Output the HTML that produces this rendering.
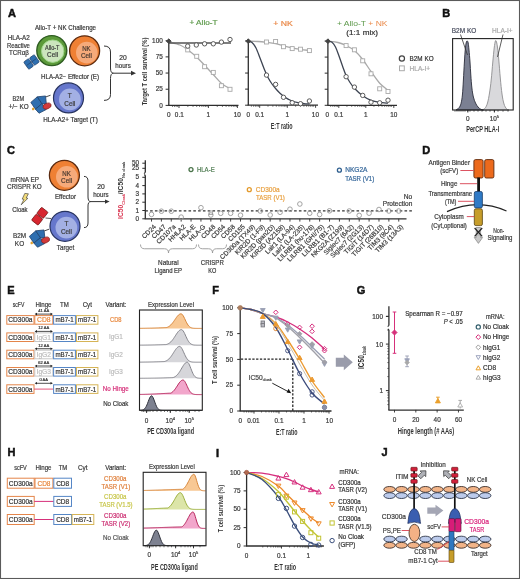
<!DOCTYPE html>
<html><head><meta charset="utf-8"><style>
html,body{margin:0;padding:0;background:#fff;}
body{width:520px;height:579px;overflow:hidden;}
svg{display:block;font-family:"Liberation Sans", sans-serif;will-change:transform;}
</style></head><body>
<svg width="520" height="579" viewBox="0 0 520 579">
<rect x="0" y="0" width="520" height="579" fill="#fff"/>
<text x="8.00" y="17.19" font-size="11.0" fill="#111" stroke="#111" stroke-width="0.5" font-weight="bold">A</text>
<text x="65.50" y="29.75" font-size="6.63" fill="#3a3a3a" stroke="#3a3a3a" stroke-width="0.2" text-anchor="middle" textLength="61" lengthAdjust="spacingAndGlyphs">Allo-T + NK Challenge</text>
<text x="18.70" y="40.15" font-size="6.63" fill="#3a3a3a" stroke="#3a3a3a" stroke-width="0.2" text-anchor="middle" textLength="22" lengthAdjust="spacingAndGlyphs">HLA-A2</text>
<text x="18.40" y="47.85" font-size="6.63" fill="#3a3a3a" stroke="#3a3a3a" stroke-width="0.2" text-anchor="middle" textLength="23" lengthAdjust="spacingAndGlyphs">Reactive</text>
<text x="18.90" y="55.45" font-size="6.63" fill="#3a3a3a" stroke="#3a3a3a" stroke-width="0.2" text-anchor="middle" textLength="19.7" lengthAdjust="spacingAndGlyphs">TCR&#945;&#946;</text>
<circle cx="51.80" cy="50.60" r="15.00" fill="#5c9a3a" stroke="#2f5d22" stroke-width="1.4" />
<circle cx="52.70" cy="51.20" r="11.20" fill="#cce6bd" stroke="#9fd68a" stroke-width="1.0" />
<text x="52.20" y="50.08" font-size="6.42" fill="#3d3d3d" stroke="#3d3d3d" stroke-width="0.2" text-anchor="middle" textLength="14.4" lengthAdjust="spacingAndGlyphs">Allo-T</text>
<text x="52.60" y="57.08" font-size="6.42" fill="#3d3d3d" stroke="#3d3d3d" stroke-width="0.2" text-anchor="middle" textLength="11" lengthAdjust="spacingAndGlyphs">Cell</text>
<circle cx="84.60" cy="50.80" r="15.00" fill="#ef8034" stroke="#5a2a10" stroke-width="1.3" />
<circle cx="86.80" cy="52.60" r="10.80" fill="#f6aa7a" stroke="none" stroke-width="1" />
<text x="86.40" y="50.98" font-size="6.42" fill="#4a3a30" stroke="#4a3a30" stroke-width="0.2" text-anchor="middle" textLength="8.5" lengthAdjust="spacingAndGlyphs">NK</text>
<text x="86.40" y="58.18" font-size="6.42" fill="#4a3a30" stroke="#4a3a30" stroke-width="0.2" text-anchor="middle" textLength="11" lengthAdjust="spacingAndGlyphs">Cell</text>
<text x="70.00" y="78.68" font-size="6.42" fill="#3a3a3a" stroke="#3a3a3a" stroke-width="0.2" text-anchor="middle" textLength="58" lengthAdjust="spacingAndGlyphs">HLA-A2− Effector (E)</text>
<g transform="translate(31.5,62) rotate(-35)"><rect x="-6.5" y="-4.5" width="6" height="9" rx="1" fill="#2f6fb0" stroke="#1d3f6a" stroke-width="0.7"/><rect x="0.5" y="-4.5" width="6" height="9" rx="1" fill="#2f6fb0" stroke="#1d3f6a" stroke-width="0.7"/><line x1="-6" y1="0" x2="6" y2="0" stroke="#1d3f6a" stroke-width="0.6"/></g>
<circle cx="68.50" cy="97.90" r="15.00" fill="#6677cc" stroke="#27335f" stroke-width="1.2" />
<circle cx="69.90" cy="99.40" r="10.90" fill="#a3b0e4" stroke="none" stroke-width="1" />
<text x="69.80" y="98.18" font-size="6.42" fill="#3d3d3d" stroke="#3d3d3d" stroke-width="0.2" text-anchor="middle">T</text>
<text x="69.80" y="105.78" font-size="6.42" fill="#3d3d3d" stroke="#3d3d3d" stroke-width="0.2" text-anchor="middle" textLength="11" lengthAdjust="spacingAndGlyphs">Cell</text>
<text x="18.30" y="100.85" font-size="6.63" fill="#3a3a3a" stroke="#3a3a3a" stroke-width="0.2" text-anchor="middle" textLength="11.5" lengthAdjust="spacingAndGlyphs">B2M</text>
<text x="18.60" y="109.25" font-size="6.63" fill="#3a3a3a" stroke="#3a3a3a" stroke-width="0.2" text-anchor="middle" textLength="20" lengthAdjust="spacingAndGlyphs">+/− KO</text>
<text x="70.50" y="122.48" font-size="6.42" fill="#3a3a3a" stroke="#3a3a3a" stroke-width="0.2" text-anchor="middle" textLength="54.5" lengthAdjust="spacingAndGlyphs">HLA-A2+ Target (T)</text>
<g transform="translate(41,104) rotate(-20)"><path d="M-9,-5 L-1,-8 L1,0 L-7,3 Z" fill="#2f6fb0" stroke="#1d3f6a" stroke-width="0.7"/><path d="M-1,-8 L7,-6 L5,2 L1,0 Z" fill="#2f6fb0" stroke="#1d3f6a" stroke-width="0.7"/><path d="M-7,3 L1,0 L3,7 L-5,8 Z" fill="#2f6fb0" stroke="#1d3f6a" stroke-width="0.7"/><ellipse cx="5" cy="4" rx="4.2" ry="2.8" fill="#d23a3a" stroke="#7a1d1d" stroke-width="0.6"/><circle cx="-9" cy="2" r="1.3" fill="#e0a030"/><line x1="7" y1="-5" x2="12" y2="-5" stroke="#333" stroke-width="0.8"/></g>
<path d="M104,46 Q110.5,46 110.5,52 L110.5,68 Q110.5,73.2 113.5,73.2 Q110.5,73.2 110.5,78.5 L110.5,94.5 Q110.5,100.4 104,100.4" fill="none" stroke="#333" stroke-width="1.0" />
<line x1="113.50" y1="73.20" x2="132.50" y2="73.20" stroke="#333" stroke-width="1.0" />
<path d="M131,70.8 L136,73.2 L131,75.6 Z" fill="#333" stroke="none" stroke-width="1" />
<text x="123.00" y="59.75" font-size="6.63" fill="#3a3a3a" stroke="#3a3a3a" stroke-width="0.2" text-anchor="middle" textLength="7.5" lengthAdjust="spacingAndGlyphs">20</text>
<text x="123.00" y="67.65" font-size="6.63" fill="#3a3a3a" stroke="#3a3a3a" stroke-width="0.2" text-anchor="middle" textLength="15.5" lengthAdjust="spacingAndGlyphs">hours</text>
<text x="144.40" y="74.15" font-size="7.81" fill="#333" text-anchor="middle" font-weight="bold" textLength="67.7" lengthAdjust="spacingAndGlyphs" transform="rotate(-90 144.40 71.50)">Target T cell survival (%)</text>
<line x1="168.80" y1="39.20" x2="168.80" y2="105.40" stroke="#2e2e2e" stroke-width="1.3" />
<line x1="168.20" y1="105.40" x2="238.50" y2="105.40" stroke="#2e2e2e" stroke-width="1.3" />
<line x1="165.60" y1="40.70" x2="168.80" y2="40.70" stroke="#2e2e2e" stroke-width="1.0" />
<text x="162.80" y="42.88" font-size="6.42" fill="#3a3a3a" stroke="#3a3a3a" stroke-width="0.2" text-anchor="end">100</text>
<line x1="165.60" y1="56.88" x2="168.80" y2="56.88" stroke="#2e2e2e" stroke-width="1.0" />
<text x="162.80" y="59.06" font-size="6.42" fill="#3a3a3a" stroke="#3a3a3a" stroke-width="0.2" text-anchor="end">75</text>
<line x1="165.60" y1="73.05" x2="168.80" y2="73.05" stroke="#2e2e2e" stroke-width="1.0" />
<text x="162.80" y="75.23" font-size="6.42" fill="#3a3a3a" stroke="#3a3a3a" stroke-width="0.2" text-anchor="end">50</text>
<line x1="165.60" y1="89.22" x2="168.80" y2="89.22" stroke="#2e2e2e" stroke-width="1.0" />
<text x="162.80" y="91.41" font-size="6.42" fill="#3a3a3a" stroke="#3a3a3a" stroke-width="0.2" text-anchor="end">25</text>
<line x1="165.60" y1="105.40" x2="168.80" y2="105.40" stroke="#2e2e2e" stroke-width="1.0" />
<text x="162.80" y="107.58" font-size="6.42" fill="#3a3a3a" stroke="#3a3a3a" stroke-width="0.2" text-anchor="end">0</text>
<line x1="179.00" y1="105.40" x2="179.00" y2="108.00" stroke="#2e2e2e" stroke-width="0.9" />
<line x1="208.40" y1="105.40" x2="208.40" y2="108.00" stroke="#2e2e2e" stroke-width="0.9" />
<line x1="237.40" y1="105.40" x2="237.40" y2="108.00" stroke="#2e2e2e" stroke-width="0.9" />
<line x1="172.48" y1="105.40" x2="172.48" y2="106.90" stroke="#2e2e2e" stroke-width="0.7" />
<line x1="174.45" y1="105.40" x2="174.45" y2="106.90" stroke="#2e2e2e" stroke-width="0.7" />
<line x1="176.15" y1="105.40" x2="176.15" y2="106.90" stroke="#2e2e2e" stroke-width="0.7" />
<line x1="177.65" y1="105.40" x2="177.65" y2="106.90" stroke="#2e2e2e" stroke-width="0.7" />
<line x1="187.85" y1="105.40" x2="187.85" y2="106.90" stroke="#2e2e2e" stroke-width="0.7" />
<line x1="193.03" y1="105.40" x2="193.03" y2="106.90" stroke="#2e2e2e" stroke-width="0.7" />
<line x1="196.70" y1="105.40" x2="196.70" y2="106.90" stroke="#2e2e2e" stroke-width="0.7" />
<line x1="199.55" y1="105.40" x2="199.55" y2="106.90" stroke="#2e2e2e" stroke-width="0.7" />
<line x1="201.88" y1="105.40" x2="201.88" y2="106.90" stroke="#2e2e2e" stroke-width="0.7" />
<line x1="203.85" y1="105.40" x2="203.85" y2="106.90" stroke="#2e2e2e" stroke-width="0.7" />
<line x1="205.55" y1="105.40" x2="205.55" y2="106.90" stroke="#2e2e2e" stroke-width="0.7" />
<line x1="207.05" y1="105.40" x2="207.05" y2="106.90" stroke="#2e2e2e" stroke-width="0.7" />
<line x1="217.25" y1="105.40" x2="217.25" y2="106.90" stroke="#2e2e2e" stroke-width="0.7" />
<line x1="222.43" y1="105.40" x2="222.43" y2="106.90" stroke="#2e2e2e" stroke-width="0.7" />
<line x1="226.10" y1="105.40" x2="226.10" y2="106.90" stroke="#2e2e2e" stroke-width="0.7" />
<line x1="228.95" y1="105.40" x2="228.95" y2="106.90" stroke="#2e2e2e" stroke-width="0.7" />
<line x1="231.28" y1="105.40" x2="231.28" y2="106.90" stroke="#2e2e2e" stroke-width="0.7" />
<line x1="233.25" y1="105.40" x2="233.25" y2="106.90" stroke="#2e2e2e" stroke-width="0.7" />
<line x1="234.95" y1="105.40" x2="234.95" y2="106.90" stroke="#2e2e2e" stroke-width="0.7" />
<line x1="236.45" y1="105.40" x2="236.45" y2="106.90" stroke="#2e2e2e" stroke-width="0.7" />
<text x="168.80" y="116.78" font-size="6.42" fill="#3a3a3a" stroke="#3a3a3a" stroke-width="0.2" text-anchor="middle">0</text>
<text x="179.30" y="116.78" font-size="6.42" fill="#3a3a3a" stroke="#3a3a3a" stroke-width="0.2" text-anchor="middle">0.1</text>
<text x="208.40" y="116.78" font-size="6.42" fill="#3a3a3a" stroke="#3a3a3a" stroke-width="0.2" text-anchor="middle">1</text>
<text x="237.20" y="116.78" font-size="6.42" fill="#3a3a3a" stroke="#3a3a3a" stroke-width="0.2" text-anchor="middle">10</text>
<text x="203.50" y="25.39" font-size="7.92" fill="#5e9a4c" stroke="#5e9a4c" stroke-width="0.2" text-anchor="middle" textLength="28" lengthAdjust="spacingAndGlyphs">+ Allo-T</text>
<path d="M168.80,42.00 C170.67,42.50 176.80,43.67 180.00,45.00 C183.20,46.33 185.25,48.00 188.00,50.00 C190.75,52.00 193.70,54.42 196.50,57.00 C199.30,59.58 202.02,62.58 204.80,65.50 C207.58,68.42 210.40,71.50 213.20,74.50 C216.00,77.50 218.80,81.15 221.60,83.50 C224.40,85.85 228.60,87.75 230.00,88.60" fill="none" stroke="#a9a9a9" stroke-width="1.3" />
<line x1="168.80" y1="43.00" x2="231.00" y2="43.00" stroke="#555" stroke-width="1.3" />
<rect x="185.70" y="47.90" width="4.00" height="4.00" fill="#fff" stroke="#a9a9a9" stroke-width="0.9" rx="0" />
<rect x="194.70" y="54.30" width="4.00" height="4.00" fill="#fff" stroke="#a9a9a9" stroke-width="0.9" rx="0" />
<rect x="202.60" y="64.70" width="4.00" height="4.00" fill="#fff" stroke="#a9a9a9" stroke-width="0.9" rx="0" />
<rect x="211.30" y="70.40" width="4.00" height="4.00" fill="#fff" stroke="#a9a9a9" stroke-width="0.9" rx="0" />
<rect x="219.40" y="83.70" width="4.00" height="4.00" fill="#fff" stroke="#a9a9a9" stroke-width="0.9" rx="0" />
<rect x="228.00" y="87.30" width="4.00" height="4.00" fill="#fff" stroke="#a9a9a9" stroke-width="0.9" rx="0" />
<circle cx="187.70" cy="46.10" r="2.20" fill="#fff" stroke="#4a4a4a" stroke-width="0.9" />
<circle cx="196.30" cy="45.00" r="2.20" fill="#fff" stroke="#4a4a4a" stroke-width="0.9" />
<circle cx="204.60" cy="43.80" r="2.20" fill="#fff" stroke="#4a4a4a" stroke-width="0.9" />
<circle cx="213.30" cy="43.80" r="2.20" fill="#fff" stroke="#4a4a4a" stroke-width="0.9" />
<circle cx="221.40" cy="42.10" r="2.20" fill="#fff" stroke="#4a4a4a" stroke-width="0.9" />
<circle cx="230.00" cy="39.50" r="2.20" fill="#fff" stroke="#4a4a4a" stroke-width="0.9" />
<path d="M168.8,38.800000000000004 L171.20000000000002,41.2 L168.8,43.6 L166.4,41.2 Z" fill="#444" stroke="#444" stroke-width="0.9" />
<line x1="248.30" y1="39.40" x2="248.30" y2="105.20" stroke="#2e2e2e" stroke-width="1.3" />
<line x1="247.70" y1="105.20" x2="318.00" y2="105.20" stroke="#2e2e2e" stroke-width="1.3" />
<line x1="245.10" y1="40.90" x2="248.30" y2="40.90" stroke="#2e2e2e" stroke-width="1.0" />
<line x1="245.10" y1="56.98" x2="248.30" y2="56.98" stroke="#2e2e2e" stroke-width="1.0" />
<line x1="245.10" y1="73.05" x2="248.30" y2="73.05" stroke="#2e2e2e" stroke-width="1.0" />
<line x1="245.10" y1="89.12" x2="248.30" y2="89.12" stroke="#2e2e2e" stroke-width="1.0" />
<line x1="245.10" y1="105.20" x2="248.30" y2="105.20" stroke="#2e2e2e" stroke-width="1.0" />
<line x1="259.70" y1="105.20" x2="259.70" y2="107.80" stroke="#2e2e2e" stroke-width="0.9" />
<line x1="287.30" y1="105.20" x2="287.30" y2="107.80" stroke="#2e2e2e" stroke-width="0.9" />
<line x1="315.60" y1="105.20" x2="315.60" y2="107.80" stroke="#2e2e2e" stroke-width="0.9" />
<line x1="251.39" y1="105.20" x2="251.39" y2="106.70" stroke="#2e2e2e" stroke-width="0.7" />
<line x1="253.58" y1="105.20" x2="253.58" y2="106.70" stroke="#2e2e2e" stroke-width="0.7" />
<line x1="255.42" y1="105.20" x2="255.42" y2="106.70" stroke="#2e2e2e" stroke-width="0.7" />
<line x1="257.03" y1="105.20" x2="257.03" y2="106.70" stroke="#2e2e2e" stroke-width="0.7" />
<line x1="258.44" y1="105.20" x2="258.44" y2="106.70" stroke="#2e2e2e" stroke-width="0.7" />
<line x1="268.01" y1="105.20" x2="268.01" y2="106.70" stroke="#2e2e2e" stroke-width="0.7" />
<line x1="272.87" y1="105.20" x2="272.87" y2="106.70" stroke="#2e2e2e" stroke-width="0.7" />
<line x1="276.32" y1="105.20" x2="276.32" y2="106.70" stroke="#2e2e2e" stroke-width="0.7" />
<line x1="278.99" y1="105.20" x2="278.99" y2="106.70" stroke="#2e2e2e" stroke-width="0.7" />
<line x1="281.18" y1="105.20" x2="281.18" y2="106.70" stroke="#2e2e2e" stroke-width="0.7" />
<line x1="283.02" y1="105.20" x2="283.02" y2="106.70" stroke="#2e2e2e" stroke-width="0.7" />
<line x1="284.63" y1="105.20" x2="284.63" y2="106.70" stroke="#2e2e2e" stroke-width="0.7" />
<line x1="286.04" y1="105.20" x2="286.04" y2="106.70" stroke="#2e2e2e" stroke-width="0.7" />
<line x1="295.61" y1="105.20" x2="295.61" y2="106.70" stroke="#2e2e2e" stroke-width="0.7" />
<line x1="300.47" y1="105.20" x2="300.47" y2="106.70" stroke="#2e2e2e" stroke-width="0.7" />
<line x1="303.92" y1="105.20" x2="303.92" y2="106.70" stroke="#2e2e2e" stroke-width="0.7" />
<line x1="306.59" y1="105.20" x2="306.59" y2="106.70" stroke="#2e2e2e" stroke-width="0.7" />
<line x1="308.78" y1="105.20" x2="308.78" y2="106.70" stroke="#2e2e2e" stroke-width="0.7" />
<line x1="310.62" y1="105.20" x2="310.62" y2="106.70" stroke="#2e2e2e" stroke-width="0.7" />
<line x1="312.23" y1="105.20" x2="312.23" y2="106.70" stroke="#2e2e2e" stroke-width="0.7" />
<line x1="313.64" y1="105.20" x2="313.64" y2="106.70" stroke="#2e2e2e" stroke-width="0.7" />
<text x="248.30" y="117.18" font-size="6.42" fill="#3a3a3a" stroke="#3a3a3a" stroke-width="0.2" text-anchor="middle">0</text>
<text x="259.70" y="117.18" font-size="6.42" fill="#3a3a3a" stroke="#3a3a3a" stroke-width="0.2" text-anchor="middle">0.1</text>
<text x="287.30" y="117.18" font-size="6.42" fill="#3a3a3a" stroke="#3a3a3a" stroke-width="0.2" text-anchor="middle">1</text>
<text x="315.40" y="117.18" font-size="6.42" fill="#3a3a3a" stroke="#3a3a3a" stroke-width="0.2" text-anchor="middle">10</text>
<text x="283.00" y="25.59" font-size="7.92" fill="#ea8a4a" stroke="#ea8a4a" stroke-width="0.2" text-anchor="middle" textLength="19.5" lengthAdjust="spacingAndGlyphs">+ NK</text>
<path d="M248.30,41.20 C249.92,41.25 254.97,41.32 258.00,41.50 C261.03,41.68 263.57,41.95 266.50,42.30 C269.43,42.65 272.77,43.02 275.60,43.60 C278.43,44.18 280.73,45.08 283.50,45.80 C286.27,46.52 289.37,47.32 292.20,47.90 C295.03,48.48 297.63,48.87 300.50,49.30 C303.37,49.73 307.92,50.30 309.40,50.50" fill="none" stroke="#a9a9a9" stroke-width="1.3" />
<path d="M248.30,41.20 C248.92,41.43 250.72,41.47 252.00,42.60 C253.28,43.73 254.67,45.43 256.00,48.00 C257.33,50.57 258.67,54.58 260.00,58.00 C261.33,61.42 262.67,65.25 264.00,68.50 C265.33,71.75 266.67,74.92 268.00,77.50 C269.33,80.08 270.67,82.08 272.00,84.00 C273.33,85.92 274.67,87.47 276.00,89.00 C277.33,90.53 278.50,91.83 280.00,93.20 C281.50,94.57 283.17,95.98 285.00,97.20 C286.83,98.42 288.83,99.58 291.00,100.50 C293.17,101.42 295.83,102.18 298.00,102.70 C300.17,103.22 302.08,103.38 304.00,103.60 C305.92,103.82 308.58,103.93 309.50,104.00" fill="none" stroke="#3d4452" stroke-width="1.3" />
<rect x="264.50" y="40.00" width="4.00" height="4.00" fill="#fff" stroke="#a9a9a9" stroke-width="0.9" rx="0" />
<rect x="273.60" y="39.50" width="4.00" height="4.00" fill="#fff" stroke="#a9a9a9" stroke-width="0.9" rx="0" />
<rect x="281.50" y="44.70" width="4.00" height="4.00" fill="#fff" stroke="#a9a9a9" stroke-width="0.9" rx="0" />
<rect x="290.20" y="46.60" width="4.00" height="4.00" fill="#fff" stroke="#a9a9a9" stroke-width="0.9" rx="0" />
<rect x="298.50" y="47.20" width="4.00" height="4.00" fill="#fff" stroke="#a9a9a9" stroke-width="0.9" rx="0" />
<rect x="307.40" y="48.60" width="4.00" height="4.00" fill="#fff" stroke="#a9a9a9" stroke-width="0.9" rx="0" />
<circle cx="266.50" cy="75.10" r="2.20" fill="#fff" stroke="#4a4a4a" stroke-width="0.9" />
<circle cx="275.60" cy="84.40" r="2.20" fill="#fff" stroke="#4a4a4a" stroke-width="0.9" />
<circle cx="283.50" cy="97.30" r="2.20" fill="#fff" stroke="#4a4a4a" stroke-width="0.9" />
<circle cx="292.20" cy="102.70" r="2.20" fill="#fff" stroke="#4a4a4a" stroke-width="0.9" />
<circle cx="300.50" cy="103.70" r="2.20" fill="#fff" stroke="#4a4a4a" stroke-width="0.9" />
<circle cx="309.40" cy="101.00" r="2.20" fill="#fff" stroke="#4a4a4a" stroke-width="0.9" />
<path d="M248.3,38.800000000000004 L250.70000000000002,41.2 L248.3,43.6 L245.9,41.2 Z" fill="#444" stroke="#444" stroke-width="0.9" />
<text x="281.70" y="129.47" font-size="8.45" fill="#333" text-anchor="middle" font-weight="bold" textLength="21.9" lengthAdjust="spacingAndGlyphs">E:T ratio</text>
<line x1="327.90" y1="39.50" x2="327.90" y2="105.30" stroke="#2e2e2e" stroke-width="1.3" />
<line x1="327.30" y1="105.30" x2="397.00" y2="105.30" stroke="#2e2e2e" stroke-width="1.3" />
<line x1="324.70" y1="41.00" x2="327.90" y2="41.00" stroke="#2e2e2e" stroke-width="1.0" />
<line x1="324.70" y1="57.08" x2="327.90" y2="57.08" stroke="#2e2e2e" stroke-width="1.0" />
<line x1="324.70" y1="73.15" x2="327.90" y2="73.15" stroke="#2e2e2e" stroke-width="1.0" />
<line x1="324.70" y1="89.22" x2="327.90" y2="89.22" stroke="#2e2e2e" stroke-width="1.0" />
<line x1="324.70" y1="105.30" x2="327.90" y2="105.30" stroke="#2e2e2e" stroke-width="1.0" />
<line x1="338.80" y1="105.30" x2="338.80" y2="107.90" stroke="#2e2e2e" stroke-width="0.9" />
<line x1="365.80" y1="105.30" x2="365.80" y2="107.90" stroke="#2e2e2e" stroke-width="0.9" />
<line x1="393.80" y1="105.30" x2="393.80" y2="107.90" stroke="#2e2e2e" stroke-width="0.9" />
<line x1="330.67" y1="105.30" x2="330.67" y2="106.80" stroke="#2e2e2e" stroke-width="0.7" />
<line x1="332.81" y1="105.30" x2="332.81" y2="106.80" stroke="#2e2e2e" stroke-width="0.7" />
<line x1="334.62" y1="105.30" x2="334.62" y2="106.80" stroke="#2e2e2e" stroke-width="0.7" />
<line x1="336.18" y1="105.30" x2="336.18" y2="106.80" stroke="#2e2e2e" stroke-width="0.7" />
<line x1="337.56" y1="105.30" x2="337.56" y2="106.80" stroke="#2e2e2e" stroke-width="0.7" />
<line x1="346.93" y1="105.30" x2="346.93" y2="106.80" stroke="#2e2e2e" stroke-width="0.7" />
<line x1="351.68" y1="105.30" x2="351.68" y2="106.80" stroke="#2e2e2e" stroke-width="0.7" />
<line x1="355.06" y1="105.30" x2="355.06" y2="106.80" stroke="#2e2e2e" stroke-width="0.7" />
<line x1="357.67" y1="105.30" x2="357.67" y2="106.80" stroke="#2e2e2e" stroke-width="0.7" />
<line x1="359.81" y1="105.30" x2="359.81" y2="106.80" stroke="#2e2e2e" stroke-width="0.7" />
<line x1="361.62" y1="105.30" x2="361.62" y2="106.80" stroke="#2e2e2e" stroke-width="0.7" />
<line x1="363.18" y1="105.30" x2="363.18" y2="106.80" stroke="#2e2e2e" stroke-width="0.7" />
<line x1="364.56" y1="105.30" x2="364.56" y2="106.80" stroke="#2e2e2e" stroke-width="0.7" />
<line x1="373.93" y1="105.30" x2="373.93" y2="106.80" stroke="#2e2e2e" stroke-width="0.7" />
<line x1="378.68" y1="105.30" x2="378.68" y2="106.80" stroke="#2e2e2e" stroke-width="0.7" />
<line x1="382.06" y1="105.30" x2="382.06" y2="106.80" stroke="#2e2e2e" stroke-width="0.7" />
<line x1="384.67" y1="105.30" x2="384.67" y2="106.80" stroke="#2e2e2e" stroke-width="0.7" />
<line x1="386.81" y1="105.30" x2="386.81" y2="106.80" stroke="#2e2e2e" stroke-width="0.7" />
<line x1="388.62" y1="105.30" x2="388.62" y2="106.80" stroke="#2e2e2e" stroke-width="0.7" />
<line x1="390.18" y1="105.30" x2="390.18" y2="106.80" stroke="#2e2e2e" stroke-width="0.7" />
<line x1="391.56" y1="105.30" x2="391.56" y2="106.80" stroke="#2e2e2e" stroke-width="0.7" />
<text x="327.40" y="116.68" font-size="6.42" fill="#3a3a3a" stroke="#3a3a3a" stroke-width="0.2" text-anchor="middle">0</text>
<text x="338.80" y="116.68" font-size="6.42" fill="#3a3a3a" stroke="#3a3a3a" stroke-width="0.2" text-anchor="middle">0.1</text>
<text x="365.80" y="116.68" font-size="6.42" fill="#3a3a3a" stroke="#3a3a3a" stroke-width="0.2" text-anchor="middle">1</text>
<text x="393.80" y="116.68" font-size="6.42" fill="#3a3a3a" stroke="#3a3a3a" stroke-width="0.2" text-anchor="middle">10</text>
<text x="362.2" y="25.6" font-size="7.9" text-anchor="middle" textLength="50.6" lengthAdjust="spacingAndGlyphs"><tspan fill="#5e9a4c">+ Allo-T</tspan><tspan fill="#ea8a4a"> + NK</tspan></text>
<text x="362.20" y="35.45" font-size="7.49" fill="#333" stroke="#333" stroke-width="0.2" text-anchor="middle" textLength="31.7" lengthAdjust="spacingAndGlyphs">(1:1 mix)</text>
<path d="M327.90,41.20 C329.58,41.42 334.97,41.78 338.00,42.50 C341.03,43.22 343.37,44.15 346.10,45.50 C348.83,46.85 351.63,48.27 354.40,50.60 C357.17,52.93 359.93,56.02 362.70,59.50 C365.47,62.98 368.17,67.55 371.00,71.50 C373.83,75.45 376.87,80.08 379.70,83.20 C382.53,86.32 386.62,89.03 388.00,90.20" fill="none" stroke="#a9a9a9" stroke-width="1.3" />
<path d="M327.90,41.20 C328.58,41.37 330.73,41.23 332.00,42.20 C333.27,43.17 334.33,44.70 335.50,47.00 C336.67,49.30 337.83,52.83 339.00,56.00 C340.17,59.17 341.32,62.75 342.50,66.00 C343.68,69.25 344.85,72.75 346.10,75.50 C347.35,78.25 348.62,80.38 350.00,82.50 C351.38,84.62 352.28,85.98 354.40,88.20 C356.52,90.42 359.93,93.78 362.70,95.80 C365.47,97.82 368.17,99.20 371.00,100.30 C373.83,101.40 376.87,101.92 379.70,102.40 C382.53,102.88 386.62,103.07 388.00,103.20" fill="none" stroke="#3d4452" stroke-width="1.3" />
<rect x="344.10" y="43.60" width="4.00" height="4.00" fill="#fff" stroke="#a9a9a9" stroke-width="0.9" rx="0" />
<rect x="352.40" y="47.80" width="4.00" height="4.00" fill="#fff" stroke="#a9a9a9" stroke-width="0.9" rx="0" />
<rect x="360.70" y="58.80" width="4.00" height="4.00" fill="#fff" stroke="#a9a9a9" stroke-width="0.9" rx="0" />
<rect x="369.00" y="71.80" width="4.00" height="4.00" fill="#fff" stroke="#a9a9a9" stroke-width="0.9" rx="0" />
<rect x="377.70" y="86.80" width="4.00" height="4.00" fill="#fff" stroke="#a9a9a9" stroke-width="0.9" rx="0" />
<rect x="386.00" y="89.50" width="4.00" height="4.00" fill="#fff" stroke="#a9a9a9" stroke-width="0.9" rx="0" />
<circle cx="346.10" cy="76.70" r="2.20" fill="#fff" stroke="#4a4a4a" stroke-width="0.9" />
<circle cx="354.40" cy="87.10" r="2.20" fill="#fff" stroke="#4a4a4a" stroke-width="0.9" />
<circle cx="362.70" cy="95.40" r="2.20" fill="#fff" stroke="#4a4a4a" stroke-width="0.9" />
<circle cx="371.00" cy="102.20" r="2.20" fill="#fff" stroke="#4a4a4a" stroke-width="0.9" />
<circle cx="379.70" cy="102.80" r="2.20" fill="#fff" stroke="#4a4a4a" stroke-width="0.9" />
<circle cx="388.00" cy="100.20" r="2.20" fill="#fff" stroke="#4a4a4a" stroke-width="0.9" />
<path d="M327.9,38.800000000000004 L330.29999999999995,41.2 L327.9,43.6 L325.5,41.2 Z" fill="#444" stroke="#444" stroke-width="0.9" />
<circle cx="401.90" cy="58.50" r="2.60" fill="none" stroke="#444" stroke-width="1.2" />
<text x="409.60" y="60.75" font-size="6.63" fill="#333" stroke="#333" stroke-width="0.2" textLength="24" lengthAdjust="spacingAndGlyphs">B2M KO</text>
<rect x="399.50" y="65.90" width="4.80" height="4.80" fill="none" stroke="#aaa" stroke-width="1.0" rx="0" />
<text x="409.60" y="70.55" font-size="6.63" fill="#aaa" stroke="#aaa" stroke-width="0.2" textLength="20.5" lengthAdjust="spacingAndGlyphs">HLA-I+</text>
<text x="442.20" y="16.69" font-size="11.0" fill="#111" stroke="#111" stroke-width="0.5" font-weight="bold">B</text>
<text x="464.00" y="33.18" font-size="6.42" fill="#4a4f60" stroke="#4a4f60" stroke-width="0.2" text-anchor="middle" textLength="24.5" lengthAdjust="spacingAndGlyphs">B2M KO</text>
<text x="502.30" y="33.18" font-size="6.42" fill="#aaa" stroke="#aaa" stroke-width="0.2" text-anchor="middle" textLength="20.5" lengthAdjust="spacingAndGlyphs">HLA-I+</text>
<path d="M482.00,110.00 C482.50,109.72 484.08,109.47 485.00,108.30 C485.92,107.13 486.75,105.55 487.50,103.00 C488.25,100.45 488.88,96.83 489.50,93.00 C490.12,89.17 490.65,85.17 491.20,80.00 C491.75,74.83 492.30,67.33 492.80,62.00 C493.30,56.67 493.77,51.50 494.20,48.00 C494.63,44.50 495.02,42.00 495.40,41.00 C495.78,40.00 496.13,40.83 496.50,42.00 C496.87,43.17 497.22,45.00 497.60,48.00 C497.98,51.00 498.35,55.00 498.80,60.00 C499.25,65.00 499.77,72.33 500.30,78.00 C500.83,83.67 501.38,89.67 502.00,94.00 C502.62,98.33 503.25,101.53 504.00,104.00 C504.75,106.47 505.67,107.80 506.50,108.80 C507.33,109.80 508.58,109.80 509.00,110.00 Z" fill="#d9d9dc" stroke="#8d8d90" stroke-width="0.9" />
<path d="M456.00,110.00 C456.50,109.63 458.17,108.88 459.00,107.80 C459.83,106.72 460.43,105.63 461.00,103.50 C461.57,101.37 462.00,98.92 462.40,95.00 C462.80,91.08 463.07,85.50 463.40,80.00 C463.73,74.50 464.07,67.33 464.40,62.00 C464.73,56.67 465.07,51.33 465.40,48.00 C465.73,44.67 466.08,43.17 466.40,42.00 C466.72,40.83 467.00,40.83 467.30,41.00 C467.60,41.17 467.92,41.50 468.20,43.00 C468.48,44.50 468.70,46.83 469.00,50.00 C469.30,53.17 469.70,57.83 470.00,62.00 C470.30,66.17 470.48,70.67 470.80,75.00 C471.12,79.33 471.47,84.33 471.90,88.00 C472.33,91.67 472.80,94.50 473.40,97.00 C474.00,99.50 474.73,101.33 475.50,103.00 C476.27,104.67 477.08,105.93 478.00,107.00 C478.92,108.07 480.08,108.90 481.00,109.40 C481.92,109.90 483.08,109.90 483.50,110.00 Z" fill="#7b8092" stroke="#2a2d3a" stroke-width="0.9" />
<rect x="452.60" y="38.60" width="60.60" height="71.40" fill="none" stroke="#222" stroke-width="1.1" rx="0" />
<line x1="460.50" y1="34.50" x2="467.50" y2="55.00" stroke="#333" stroke-width="0.8" />
<line x1="503.00" y1="34.50" x2="497.50" y2="57.00" stroke="#333" stroke-width="0.8" />
<line x1="455.00" y1="110.00" x2="455.00" y2="111.80" stroke="#222" stroke-width="0.6" />
<line x1="457.00" y1="110.00" x2="457.00" y2="111.80" stroke="#222" stroke-width="0.6" />
<line x1="459.00" y1="110.00" x2="459.00" y2="111.80" stroke="#222" stroke-width="0.6" />
<line x1="461.00" y1="110.00" x2="461.00" y2="111.80" stroke="#222" stroke-width="0.6" />
<line x1="463.00" y1="110.00" x2="463.00" y2="111.80" stroke="#222" stroke-width="0.6" />
<line x1="465.00" y1="110.00" x2="465.00" y2="111.80" stroke="#222" stroke-width="0.6" />
<line x1="467.80" y1="110.00" x2="467.80" y2="111.80" stroke="#222" stroke-width="0.6" />
<line x1="470.00" y1="110.00" x2="470.00" y2="111.80" stroke="#222" stroke-width="0.6" />
<line x1="474.00" y1="110.00" x2="474.00" y2="111.80" stroke="#222" stroke-width="0.6" />
<line x1="478.00" y1="110.00" x2="478.00" y2="111.80" stroke="#222" stroke-width="0.6" />
<line x1="482.00" y1="110.00" x2="482.00" y2="111.80" stroke="#222" stroke-width="0.6" />
<line x1="486.00" y1="110.00" x2="486.00" y2="111.80" stroke="#222" stroke-width="0.6" />
<line x1="490.00" y1="110.00" x2="490.00" y2="111.80" stroke="#222" stroke-width="0.6" />
<line x1="494.40" y1="110.00" x2="494.40" y2="111.80" stroke="#222" stroke-width="0.6" />
<line x1="498.00" y1="110.00" x2="498.00" y2="111.80" stroke="#222" stroke-width="0.6" />
<line x1="503.00" y1="110.00" x2="503.00" y2="111.80" stroke="#222" stroke-width="0.6" />
<line x1="508.00" y1="110.00" x2="508.00" y2="111.80" stroke="#222" stroke-width="0.6" />
<line x1="467.80" y1="110.00" x2="467.80" y2="112.50" stroke="#222" stroke-width="0.9" />
<line x1="494.40" y1="110.00" x2="494.40" y2="112.50" stroke="#222" stroke-width="0.9" />
<text x="467.80" y="120.68" font-size="6.42" fill="#3a3a3a" stroke="#3a3a3a" stroke-width="0.2" text-anchor="middle">0</text>
<text x="494.40" y="120.88" font-size="6.42" fill="#3a3a3a" stroke="#3a3a3a" stroke-width="0.2" text-anchor="middle">10<tspan font-size="4" dy="-2.5">5</tspan></text>
<text x="482.70" y="131.67" font-size="8.45" fill="#333" text-anchor="middle" font-weight="bold" textLength="33" lengthAdjust="spacingAndGlyphs">PerCP HLA-I</text>
<text x="7.00" y="154.44" font-size="11.0" fill="#111" stroke="#111" stroke-width="0.5" font-weight="bold">C</text>
<circle cx="64.40" cy="175.30" r="15.00" fill="#ef8034" stroke="#5a2a10" stroke-width="1.3" />
<circle cx="66.80" cy="176.80" r="10.80" fill="#f6aa7a" stroke="none" stroke-width="1" />
<text x="66.60" y="176.18" font-size="6.42" fill="#4a3a30" stroke="#4a3a30" stroke-width="0.2" text-anchor="middle" textLength="8.5" lengthAdjust="spacingAndGlyphs">NK</text>
<text x="66.60" y="183.38" font-size="6.42" fill="#4a3a30" stroke="#4a3a30" stroke-width="0.2" text-anchor="middle" textLength="11" lengthAdjust="spacingAndGlyphs">Cell</text>
<text x="65.50" y="198.68" font-size="6.42" fill="#3a3a3a" stroke="#3a3a3a" stroke-width="0.2" text-anchor="middle" textLength="21" lengthAdjust="spacingAndGlyphs">Effector</text>
<circle cx="65.00" cy="226.30" r="15.00" fill="#6677cc" stroke="#27335f" stroke-width="1.2" />
<circle cx="66.40" cy="227.60" r="10.90" fill="#a3b0e4" stroke="none" stroke-width="1" />
<text x="66.40" y="226.48" font-size="6.42" fill="#3d3d3d" stroke="#3d3d3d" stroke-width="0.2" text-anchor="middle">T</text>
<text x="66.40" y="234.08" font-size="6.42" fill="#3d3d3d" stroke="#3d3d3d" stroke-width="0.2" text-anchor="middle" textLength="11" lengthAdjust="spacingAndGlyphs">Cell</text>
<text x="65.50" y="250.18" font-size="6.42" fill="#3a3a3a" stroke="#3a3a3a" stroke-width="0.2" text-anchor="middle" textLength="17.5" lengthAdjust="spacingAndGlyphs">Target</text>
<text x="24.70" y="181.53" font-size="6.85" fill="#3a3a3a" stroke="#3a3a3a" stroke-width="0.2" text-anchor="middle" textLength="28.6" lengthAdjust="spacingAndGlyphs">mRNA EP</text>
<text x="24.30" y="189.03" font-size="6.85" fill="#3a3a3a" stroke="#3a3a3a" stroke-width="0.2" text-anchor="middle" textLength="34.8" lengthAdjust="spacingAndGlyphs">CRISPR KO</text>
<path d="M24.8,193.4 L28.4,193.8 L26.2,198 L27.9,198.3 L21.2,204.8 L23.9,199.4 L22.2,199.1 Z" fill="#f3dc7a" stroke="#333" stroke-width="0.6" />
<text x="19.90" y="212.33" font-size="6.85" fill="#3a3a3a" stroke="#3a3a3a" stroke-width="0.2" text-anchor="middle" textLength="15.4" lengthAdjust="spacingAndGlyphs">Cloak</text>
<text x="19.60" y="237.93" font-size="6.85" fill="#3a3a3a" stroke="#3a3a3a" stroke-width="0.2" text-anchor="middle" textLength="13.1" lengthAdjust="spacingAndGlyphs">B2M</text>
<text x="19.50" y="245.53" font-size="6.85" fill="#3a3a3a" stroke="#3a3a3a" stroke-width="0.2" text-anchor="middle" textLength="9.3" lengthAdjust="spacingAndGlyphs">KO</text>
<g transform="translate(39.8,216.2) rotate(-52)"><rect x="-8.2" y="-4.2" width="7.8" height="8.4" rx="1" fill="#d7262f" stroke="#6e1010" stroke-width="0.7"/><rect x="0.4" y="-4.2" width="7.8" height="8.4" rx="1" fill="#d7262f" stroke="#6e1010" stroke-width="0.7"/></g>
<line x1="45.50" y1="218.00" x2="51.00" y2="218.50" stroke="#333" stroke-width="0.8" />
<g transform="translate(39.5,238) rotate(-20)"><path d="M-9,-5 L-1,-8 L1,0 L-7,3 Z" fill="#2f6fb0" stroke="#1d3f6a" stroke-width="0.7"/><path d="M-1,-8 L7,-6 L5,2 L1,0 Z" fill="#2f6fb0" stroke="#1d3f6a" stroke-width="0.7"/><path d="M-7,3 L1,0 L3,7 L-5,8 Z" fill="#2f6fb0" stroke="#1d3f6a" stroke-width="0.7"/><ellipse cx="5" cy="4" rx="4.2" ry="2.8" fill="#d23a3a" stroke="#7a1d1d" stroke-width="0.6"/><circle cx="-9" cy="2" r="1.3" fill="#e0a030"/><line x1="7" y1="-5" x2="12" y2="-5" stroke="#333" stroke-width="0.8"/></g>
<path d="M84,176.4 Q88,176.4 88,181 L88,197 Q88,201.6 90.8,201.6 Q88,201.6 88,206 L88,223 Q88,227.6 84,227.6" fill="none" stroke="#333" stroke-width="1.0" />
<line x1="90.80" y1="201.60" x2="106.50" y2="201.60" stroke="#333" stroke-width="1.0" />
<path d="M105,199.4 L109.6,201.6 L105,203.8 Z" fill="#333" stroke="none" stroke-width="1" />
<text x="100.90" y="189.45" font-size="6.63" fill="#3a3a3a" stroke="#3a3a3a" stroke-width="0.2" text-anchor="middle" textLength="7.5" lengthAdjust="spacingAndGlyphs">20</text>
<text x="100.90" y="197.15" font-size="6.63" fill="#3a3a3a" stroke="#3a3a3a" stroke-width="0.2" text-anchor="middle" textLength="15.5" lengthAdjust="spacingAndGlyphs">hours</text>
<text transform="translate(123.4,218.9) rotate(-90)" font-size="7.6" font-weight="bold" fill="#333" textLength="57" lengthAdjust="spacingAndGlyphs"><tspan fill="#d9334f">IC50</tspan><tspan fill="#d9334f" font-size="4.4" dy="1.8">Cloak</tspan><tspan dy="-1.8">/IC50</tspan><tspan font-size="4.4" dy="1.8">No cloak</tspan></text>
<line x1="145.30" y1="175.30" x2="145.30" y2="218.80" stroke="#2e2e2e" stroke-width="1.3" />
<line x1="145.30" y1="160.20" x2="145.30" y2="172.60" stroke="#2e2e2e" stroke-width="1.3" />
<path d="M145.3,172.4 l-1.2,1.2" fill="none" stroke="#2e2e2e" stroke-width="1.1" />
<path d="M145.3,175.5 l-1.0,-1.0" fill="none" stroke="#2e2e2e" stroke-width="1.1" />
<line x1="144.70" y1="218.80" x2="406.50" y2="218.80" stroke="#2e2e2e" stroke-width="1.3" />
<line x1="142.30" y1="218.80" x2="145.30" y2="218.80" stroke="#2e2e2e" stroke-width="1.0" />
<text x="139.20" y="220.98" font-size="6.42" fill="#3a3a3a" stroke="#3a3a3a" stroke-width="0.2" text-anchor="end">0</text>
<line x1="142.30" y1="210.50" x2="145.30" y2="210.50" stroke="#2e2e2e" stroke-width="1.0" />
<text x="139.20" y="212.68" font-size="6.42" fill="#3a3a3a" stroke="#3a3a3a" stroke-width="0.2" text-anchor="end">1</text>
<line x1="142.30" y1="202.20" x2="145.30" y2="202.20" stroke="#2e2e2e" stroke-width="1.0" />
<text x="139.20" y="204.38" font-size="6.42" fill="#3a3a3a" stroke="#3a3a3a" stroke-width="0.2" text-anchor="end">2</text>
<line x1="142.30" y1="193.90" x2="145.30" y2="193.90" stroke="#2e2e2e" stroke-width="1.0" />
<text x="139.20" y="196.08" font-size="6.42" fill="#3a3a3a" stroke="#3a3a3a" stroke-width="0.2" text-anchor="end">3</text>
<line x1="142.30" y1="185.60" x2="145.30" y2="185.60" stroke="#2e2e2e" stroke-width="1.0" />
<text x="139.20" y="187.78" font-size="6.42" fill="#3a3a3a" stroke="#3a3a3a" stroke-width="0.2" text-anchor="end">4</text>
<line x1="142.30" y1="177.30" x2="145.30" y2="177.30" stroke="#2e2e2e" stroke-width="1.0" />
<text x="139.20" y="179.48" font-size="6.42" fill="#3a3a3a" stroke="#3a3a3a" stroke-width="0.2" text-anchor="end">5</text>
<line x1="142.30" y1="168.30" x2="145.30" y2="168.30" stroke="#2e2e2e" stroke-width="1.0" />
<text x="139.20" y="170.48" font-size="6.42" fill="#3a3a3a" stroke="#3a3a3a" stroke-width="0.2" text-anchor="end">25</text>
<line x1="142.30" y1="163.20" x2="145.30" y2="163.20" stroke="#2e2e2e" stroke-width="1.0" />
<text x="139.20" y="165.38" font-size="6.42" fill="#3a3a3a" stroke="#3a3a3a" stroke-width="0.2" text-anchor="end">50</text>
<line x1="145.30" y1="210.80" x2="414.00" y2="210.80" stroke="#333" stroke-width="1.2" stroke-dasharray="2.6,2.2"/>
<line x1="151.50" y1="218.80" x2="151.50" y2="221.60" stroke="#2e2e2e" stroke-width="0.9" />
<text x="153.00" y="223.80" font-size="6.6" fill="#3a3a3a" stroke="#3a3a3a" stroke-width="0.18" text-anchor="end" transform="rotate(-45 153.00 223.80)" dominant-baseline="hanging">CD24</text>
<circle cx="151.50" cy="214.40" r="2.30" fill="none" stroke="#999" stroke-width="0.9" />
<line x1="161.39" y1="218.80" x2="161.39" y2="221.60" stroke="#2e2e2e" stroke-width="0.9" />
<text x="162.89" y="223.80" font-size="6.6" fill="#3a3a3a" stroke="#3a3a3a" stroke-width="0.18" text-anchor="end" transform="rotate(-45 162.89 223.80)" dominant-baseline="hanging">CD47</text>
<circle cx="161.39" cy="211.20" r="2.30" fill="none" stroke="#999" stroke-width="0.9" />
<line x1="171.28" y1="218.80" x2="171.28" y2="221.60" stroke="#2e2e2e" stroke-width="0.9" />
<text x="172.78" y="223.80" font-size="6.6" fill="#3a3a3a" stroke="#3a3a3a" stroke-width="0.18" text-anchor="end" transform="rotate(-45 172.78 223.80)" dominant-baseline="hanging">CD107a</text>
<circle cx="171.28" cy="211.20" r="2.30" fill="none" stroke="#999" stroke-width="0.9" />
<line x1="181.17" y1="218.80" x2="181.17" y2="221.60" stroke="#2e2e2e" stroke-width="0.9" />
<text x="182.67" y="223.80" font-size="6.6" fill="#3a3a3a" stroke="#3a3a3a" stroke-width="0.18" text-anchor="end" transform="rotate(-45 182.67 223.80)" dominant-baseline="hanging">HHLA2</text>
<circle cx="181.17" cy="217.10" r="2.30" fill="none" stroke="#999" stroke-width="0.9" />
<line x1="191.06" y1="218.80" x2="191.06" y2="221.60" stroke="#2e2e2e" stroke-width="0.9" />
<text x="192.56" y="223.80" font-size="6.6" fill="#3a3a3a" stroke="#3a3a3a" stroke-width="0.18" text-anchor="end" transform="rotate(-45 192.56 223.80)" dominant-baseline="hanging">HLA-E</text>
<line x1="200.95" y1="218.80" x2="200.95" y2="221.60" stroke="#2e2e2e" stroke-width="0.9" />
<text x="202.45" y="223.80" font-size="6.6" fill="#3a3a3a" stroke="#3a3a3a" stroke-width="0.18" text-anchor="end" transform="rotate(-45 202.45 223.80)" dominant-baseline="hanging">HLA-G</text>
<circle cx="200.95" cy="207.70" r="2.30" fill="none" stroke="#999" stroke-width="0.9" />
<line x1="210.84" y1="218.80" x2="210.84" y2="221.60" stroke="#2e2e2e" stroke-width="0.9" />
<text x="212.34" y="223.80" font-size="6.6" fill="#3a3a3a" stroke="#3a3a3a" stroke-width="0.18" text-anchor="end" transform="rotate(-45 212.34 223.80)" dominant-baseline="hanging">CD48</text>
<circle cx="210.84" cy="215.00" r="2.30" fill="none" stroke="#999" stroke-width="0.9" />
<line x1="220.73" y1="218.80" x2="220.73" y2="221.60" stroke="#2e2e2e" stroke-width="0.9" />
<text x="222.23" y="223.80" font-size="6.6" fill="#3a3a3a" stroke="#3a3a3a" stroke-width="0.18" text-anchor="end" transform="rotate(-45 222.23 223.80)" dominant-baseline="hanging">CD54</text>
<circle cx="220.73" cy="213.30" r="2.30" fill="none" stroke="#999" stroke-width="0.9" />
<line x1="230.62" y1="218.80" x2="230.62" y2="221.60" stroke="#2e2e2e" stroke-width="0.9" />
<text x="232.12" y="223.80" font-size="6.6" fill="#3a3a3a" stroke="#3a3a3a" stroke-width="0.18" text-anchor="end" transform="rotate(-45 232.12 223.80)" dominant-baseline="hanging">CD58</text>
<circle cx="230.62" cy="213.30" r="2.30" fill="none" stroke="#999" stroke-width="0.9" />
<line x1="240.51" y1="218.80" x2="240.51" y2="221.60" stroke="#2e2e2e" stroke-width="0.9" />
<text x="242.01" y="223.80" font-size="6.6" fill="#3a3a3a" stroke="#3a3a3a" stroke-width="0.18" text-anchor="end" transform="rotate(-45 242.01 223.80)" dominant-baseline="hanging">CD155</text>
<circle cx="240.51" cy="215.20" r="2.30" fill="none" stroke="#999" stroke-width="0.9" />
<line x1="250.40" y1="218.80" x2="250.40" y2="221.60" stroke="#2e2e2e" stroke-width="0.9" />
<text x="251.90" y="223.80" font-size="6.6" fill="#3a3a3a" stroke="#3a3a3a" stroke-width="0.18" text-anchor="end" transform="rotate(-45 251.90 223.80)" dominant-baseline="hanging">CD300a (TX49)</text>
<line x1="260.29" y1="218.80" x2="260.29" y2="221.60" stroke="#2e2e2e" stroke-width="0.9" />
<text x="261.79" y="223.80" font-size="6.6" fill="#3a3a3a" stroke="#3a3a3a" stroke-width="0.18" text-anchor="end" transform="rotate(-45 261.79 223.80)" dominant-baseline="hanging">KIR2D (1-F9)</text>
<circle cx="260.29" cy="211.00" r="2.30" fill="none" stroke="#999" stroke-width="0.9" />
<line x1="270.18" y1="218.80" x2="270.18" y2="221.60" stroke="#2e2e2e" stroke-width="0.9" />
<text x="271.68" y="223.80" font-size="6.6" fill="#3a3a3a" stroke="#3a3a3a" stroke-width="0.18" text-anchor="end" transform="rotate(-45 271.68 223.80)" dominant-baseline="hanging">KIR2D (pan2D)</text>
<circle cx="270.18" cy="215.00" r="2.30" fill="none" stroke="#999" stroke-width="0.9" />
<line x1="280.07" y1="218.80" x2="280.07" y2="221.60" stroke="#2e2e2e" stroke-width="0.9" />
<text x="281.57" y="223.80" font-size="6.6" fill="#3a3a3a" stroke="#3a3a3a" stroke-width="0.18" text-anchor="end" transform="rotate(-45 281.57 223.80)" dominant-baseline="hanging">KIR3D (AZ158)</text>
<circle cx="280.07" cy="212.30" r="2.30" fill="none" stroke="#999" stroke-width="0.9" />
<line x1="289.96" y1="218.80" x2="289.96" y2="221.60" stroke="#2e2e2e" stroke-width="0.9" />
<text x="291.46" y="223.80" font-size="6.6" fill="#3a3a3a" stroke="#3a3a3a" stroke-width="0.18" text-anchor="end" transform="rotate(-45 291.46 223.80)" dominant-baseline="hanging">Lair1 (LA-94)</text>
<circle cx="289.96" cy="209.20" r="2.30" fill="none" stroke="#999" stroke-width="0.9" />
<line x1="299.85" y1="218.80" x2="299.85" y2="221.60" stroke="#2e2e2e" stroke-width="0.9" />
<text x="301.35" y="223.80" font-size="6.6" fill="#3a3a3a" stroke="#3a3a3a" stroke-width="0.18" text-anchor="end" transform="rotate(-45 301.35 223.80)" dominant-baseline="hanging">Lair1 (LA-235)</text>
<circle cx="299.85" cy="204.00" r="2.30" fill="none" stroke="#999" stroke-width="0.9" />
<line x1="309.74" y1="218.80" x2="309.74" y2="221.60" stroke="#2e2e2e" stroke-width="0.9" />
<text x="311.24" y="223.80" font-size="6.6" fill="#3a3a3a" stroke="#3a3a3a" stroke-width="0.18" text-anchor="end" transform="rotate(-45 311.24 223.80)" dominant-baseline="hanging">LILRB1 (hu-176)</text>
<circle cx="309.74" cy="213.20" r="2.30" fill="none" stroke="#999" stroke-width="0.9" />
<line x1="319.63" y1="218.80" x2="319.63" y2="221.60" stroke="#2e2e2e" stroke-width="0.9" />
<text x="321.13" y="223.80" font-size="6.6" fill="#3a3a3a" stroke="#3a3a3a" stroke-width="0.18" text-anchor="end" transform="rotate(-45 321.13 223.80)" dominant-baseline="hanging">LILRB1 (GHI/75)</text>
<circle cx="319.63" cy="214.50" r="2.30" fill="none" stroke="#999" stroke-width="0.9" />
<line x1="329.52" y1="218.80" x2="329.52" y2="221.60" stroke="#2e2e2e" stroke-width="0.9" />
<text x="331.02" y="223.80" font-size="6.6" fill="#3a3a3a" stroke="#3a3a3a" stroke-width="0.18" text-anchor="end" transform="rotate(-45 331.02 223.80)" dominant-baseline="hanging">LILRB1 (B1-7)</text>
<circle cx="329.52" cy="210.80" r="2.30" fill="none" stroke="#999" stroke-width="0.9" />
<line x1="339.41" y1="218.80" x2="339.41" y2="221.60" stroke="#2e2e2e" stroke-width="0.9" />
<text x="340.91" y="223.80" font-size="6.6" fill="#3a3a3a" stroke="#3a3a3a" stroke-width="0.18" text-anchor="end" transform="rotate(-45 340.91 223.80)" dominant-baseline="hanging">NKG2A (Z199)</text>
<line x1="349.30" y1="218.80" x2="349.30" y2="221.60" stroke="#2e2e2e" stroke-width="0.9" />
<text x="350.80" y="223.80" font-size="6.6" fill="#3a3a3a" stroke="#3a3a3a" stroke-width="0.18" text-anchor="end" transform="rotate(-45 350.80 223.80)" dominant-baseline="hanging">Siglec7 (6A2)</text>
<circle cx="349.30" cy="211.00" r="2.30" fill="none" stroke="#999" stroke-width="0.9" />
<line x1="359.19" y1="218.80" x2="359.19" y2="221.60" stroke="#2e2e2e" stroke-width="0.9" />
<text x="360.69" y="223.80" font-size="6.6" fill="#3a3a3a" stroke="#3a3a3a" stroke-width="0.18" text-anchor="end" transform="rotate(-45 360.69 223.80)" dominant-baseline="hanging">Siglec7 (2G13)</text>
<circle cx="359.19" cy="215.40" r="2.30" fill="none" stroke="#999" stroke-width="0.9" />
<line x1="369.08" y1="218.80" x2="369.08" y2="221.60" stroke="#2e2e2e" stroke-width="0.9" />
<text x="370.58" y="223.80" font-size="6.6" fill="#3a3a3a" stroke="#3a3a3a" stroke-width="0.18" text-anchor="end" transform="rotate(-45 370.58 223.80)" dominant-baseline="hanging">TIGIT (14D7)</text>
<circle cx="369.08" cy="213.20" r="2.30" fill="none" stroke="#999" stroke-width="0.9" />
<line x1="378.97" y1="218.80" x2="378.97" y2="221.60" stroke="#2e2e2e" stroke-width="0.9" />
<text x="380.47" y="223.80" font-size="6.6" fill="#3a3a3a" stroke="#3a3a3a" stroke-width="0.18" text-anchor="end" transform="rotate(-45 380.47 223.80)" dominant-baseline="hanging">TIGIT (26B10)</text>
<circle cx="378.97" cy="209.50" r="2.30" fill="none" stroke="#999" stroke-width="0.9" />
<line x1="388.86" y1="218.80" x2="388.86" y2="221.60" stroke="#2e2e2e" stroke-width="0.9" />
<text x="390.36" y="223.80" font-size="6.6" fill="#3a3a3a" stroke="#3a3a3a" stroke-width="0.18" text-anchor="end" transform="rotate(-45 390.36 223.80)" dominant-baseline="hanging">TIM3 (8C4)</text>
<circle cx="388.86" cy="211.00" r="2.30" fill="none" stroke="#999" stroke-width="0.9" />
<line x1="398.75" y1="218.80" x2="398.75" y2="221.60" stroke="#2e2e2e" stroke-width="0.9" />
<text x="400.25" y="223.80" font-size="6.6" fill="#3a3a3a" stroke="#3a3a3a" stroke-width="0.18" text-anchor="end" transform="rotate(-45 400.25 223.80)" dominant-baseline="hanging">TIM3 (13A3)</text>
<circle cx="398.75" cy="211.00" r="2.30" fill="none" stroke="#999" stroke-width="0.9" />
<rect x="209.04" y="211.00" width="3.60" height="3.60" fill="none" stroke="#999" stroke-width="0.8" rx="0" />
<circle cx="191.00" cy="169.60" r="2.00" fill="none" stroke="#4a744a" stroke-width="1.3" />
<text x="196.90" y="171.93" font-size="6.85" fill="#4f7c52" stroke="#4f7c52" stroke-width="0.2" textLength="17.8" lengthAdjust="spacingAndGlyphs">HLA-E</text>
<circle cx="249.30" cy="189.70" r="2.00" fill="none" stroke="#e39a2c" stroke-width="1.3" />
<text x="255.80" y="192.03" font-size="6.85" fill="#e8a040" stroke="#e8a040" stroke-width="0.2" textLength="23.8" lengthAdjust="spacingAndGlyphs">CD300a</text>
<text x="256.00" y="199.63" font-size="6.85" fill="#e8a040" stroke="#e8a040" stroke-width="0.2" textLength="28.9" lengthAdjust="spacingAndGlyphs">TASR (V1)</text>
<circle cx="339.40" cy="170.20" r="2.00" fill="none" stroke="#2f5f8f" stroke-width="1.3" />
<text x="345.20" y="172.45" font-size="6.63" fill="#35679a" stroke="#35679a" stroke-width="0.2" textLength="22.3" lengthAdjust="spacingAndGlyphs">NKG2A</text>
<text x="345.20" y="180.75" font-size="6.63" fill="#35679a" stroke="#35679a" stroke-width="0.2" textLength="29" lengthAdjust="spacingAndGlyphs">TASR (V1)</text>
<text x="412.30" y="198.55" font-size="6.63" fill="#3a3a3a" stroke="#3a3a3a" stroke-width="0.2" text-anchor="end" textLength="8.5" lengthAdjust="spacingAndGlyphs">No</text>
<text x="412.30" y="206.25" font-size="6.63" fill="#3a3a3a" stroke="#3a3a3a" stroke-width="0.2" text-anchor="end" textLength="29.5" lengthAdjust="spacingAndGlyphs">Protection</text>
<path d="M140.5,244.5 Q140.5,248.75 144.5,248.75 L164.5,248.75 Q168.5,248.75 168.5,253 Q168.5,248.75 172.5,248.75 L192.5,248.75 Q196.5,248.75 196.5,244.5" fill="none" stroke="#999" stroke-width="0.9" />
<path d="M198.5,244.5 Q198.5,248.75 202.5,248.75 L208.5,248.75 Q212.5,248.75 212.5,253 Q212.5,248.75 216.5,248.75 L222.5,248.75 Q226.5,248.75 226.5,244.5" fill="none" stroke="#999" stroke-width="0.9" />
<text x="168.30" y="265.25" font-size="6.63" fill="#3a3a3a" stroke="#3a3a3a" stroke-width="0.2" text-anchor="middle" textLength="20.5" lengthAdjust="spacingAndGlyphs">Natural</text>
<text x="168.30" y="273.45" font-size="6.63" fill="#3a3a3a" stroke="#3a3a3a" stroke-width="0.2" text-anchor="middle" textLength="27.5" lengthAdjust="spacingAndGlyphs">Ligand EP</text>
<text x="212.30" y="265.25" font-size="6.63" fill="#3a3a3a" stroke="#3a3a3a" stroke-width="0.2" text-anchor="middle" textLength="23" lengthAdjust="spacingAndGlyphs">CRISPR</text>
<text x="212.30" y="273.45" font-size="6.63" fill="#3a3a3a" stroke="#3a3a3a" stroke-width="0.2" text-anchor="middle" textLength="8" lengthAdjust="spacingAndGlyphs">KO</text>
<text x="422.20" y="154.34" font-size="11.0" fill="#111" stroke="#111" stroke-width="0.5" font-weight="bold">D</text>
<rect x="473.90" y="159.60" width="9.20" height="18.40" fill="#ec6a1c" stroke="#5e2a0e" stroke-width="0.9" rx="1.6" />
<rect x="484.70" y="159.60" width="9.20" height="18.40" fill="#ec6a1c" stroke="#5e2a0e" stroke-width="0.9" rx="1.6" />
<line x1="478.60" y1="177.50" x2="478.60" y2="192.00" stroke="#111" stroke-width="2.8" />
<path d="M447,211.6 Q477,198 506.5,211" fill="none" stroke="#222" stroke-width="1.2" />
<rect x="474.30" y="191.50" width="8.10" height="16.40" fill="#2f7ac6" stroke="#1c3f6a" stroke-width="0.8" rx="1.6" />
<rect x="474.30" y="208.80" width="8.10" height="16.80" fill="#c69d2a" stroke="#5a4410" stroke-width="0.8" rx="1.6" />
<path d="M476.2,227.5 L480.6,227.5 L480.6,237.5 L482.6,237.5 L478.4,243.4 L474.2,237.5 L476.2,237.5 Z" fill="#c9c9c9" stroke="#777" stroke-width="0.6" />
<line x1="476.20" y1="232.00" x2="480.60" y2="232.00" stroke="#999" stroke-width="0.5" />
<line x1="476.20" y1="235.00" x2="480.60" y2="235.00" stroke="#999" stroke-width="0.5" />
<line x1="474.60" y1="228.00" x2="482.20" y2="236.40" stroke="#222" stroke-width="1.2" />
<line x1="482.20" y1="228.00" x2="474.60" y2="236.40" stroke="#222" stroke-width="1.2" />
<text x="470.00" y="165.25" font-size="6.63" fill="#3a3a3a" stroke="#3a3a3a" stroke-width="0.2" text-anchor="end" textLength="41.5" lengthAdjust="spacingAndGlyphs">Antigen Binder</text>
<text x="458.20" y="172.75" font-size="6.63" fill="#3a3a3a" stroke="#3a3a3a" stroke-width="0.2" text-anchor="end" textLength="18" lengthAdjust="spacingAndGlyphs">(scFV)</text>
<line x1="460.40" y1="170.50" x2="473.60" y2="170.50" stroke="#d8404f" stroke-width="0.9" />
<text x="457.40" y="185.95" font-size="6.63" fill="#3a3a3a" stroke="#3a3a3a" stroke-width="0.2" text-anchor="end" textLength="16.5" lengthAdjust="spacingAndGlyphs">Hinge</text>
<line x1="459.90" y1="183.70" x2="477.00" y2="183.70" stroke="#d8404f" stroke-width="0.9" />
<text x="472.20" y="195.75" font-size="6.63" fill="#3a3a3a" stroke="#3a3a3a" stroke-width="0.2" text-anchor="end" textLength="43.8" lengthAdjust="spacingAndGlyphs">Transmembrane</text>
<text x="456.40" y="203.55" font-size="6.63" fill="#3a3a3a" stroke="#3a3a3a" stroke-width="0.2" text-anchor="end" textLength="11.5" lengthAdjust="spacingAndGlyphs">(TM)</text>
<line x1="458.00" y1="201.30" x2="474.00" y2="201.30" stroke="#d8404f" stroke-width="0.9" />
<text x="463.80" y="218.95" font-size="6.63" fill="#3a3a3a" stroke="#3a3a3a" stroke-width="0.2" text-anchor="end" textLength="29.6" lengthAdjust="spacingAndGlyphs">Cytoplasm</text>
<line x1="466.80" y1="216.60" x2="474.20" y2="216.60" stroke="#d8404f" stroke-width="0.9" />
<text x="466.80" y="227.55" font-size="6.63" fill="#3a3a3a" stroke="#3a3a3a" stroke-width="0.2" text-anchor="end" textLength="35.5" lengthAdjust="spacingAndGlyphs">(Cyt,optional)</text>
<text x="498.70" y="232.55" font-size="6.63" fill="#3a3a3a" stroke="#3a3a3a" stroke-width="0.2" text-anchor="middle" textLength="10.8" lengthAdjust="spacingAndGlyphs">Non-</text>
<text x="500.00" y="240.35" font-size="6.63" fill="#3a3a3a" stroke="#3a3a3a" stroke-width="0.2" text-anchor="middle" textLength="25" lengthAdjust="spacingAndGlyphs">Signaling</text>
<text x="7.20" y="294.34" font-size="11.0" fill="#111" stroke="#111" stroke-width="0.5" font-weight="bold">E</text>
<text x="18.50" y="306.75" font-size="6.63" fill="#3a3a3a" stroke="#3a3a3a" stroke-width="0.2" text-anchor="middle" textLength="11.5" lengthAdjust="spacingAndGlyphs">scFV</text>
<text x="43.50" y="306.75" font-size="6.63" fill="#3a3a3a" stroke="#3a3a3a" stroke-width="0.2" text-anchor="middle" textLength="16" lengthAdjust="spacingAndGlyphs">Hinge</text>
<text x="64.40" y="306.75" font-size="6.63" fill="#3a3a3a" stroke="#3a3a3a" stroke-width="0.2" text-anchor="middle" textLength="8.8" lengthAdjust="spacingAndGlyphs">TM</text>
<text x="87.30" y="306.75" font-size="6.63" fill="#3a3a3a" stroke="#3a3a3a" stroke-width="0.2" text-anchor="middle" textLength="9.3" lengthAdjust="spacingAndGlyphs">Cyt</text>
<text x="116.00" y="306.75" font-size="6.63" fill="#3a3a3a" stroke="#3a3a3a" stroke-width="0.2" text-anchor="middle" textLength="21" lengthAdjust="spacingAndGlyphs">Variant:</text>
<rect x="6.80" y="315.60" width="27.20" height="8.60" fill="#fff" stroke="#e4854a" stroke-width="1.0" rx="0" />
<text x="20.40" y="322.30" font-size="7.06" fill="#333" stroke="#333" stroke-width="0.2" text-anchor="middle" textLength="24.2" lengthAdjust="spacingAndGlyphs">CD300a</text>
<rect x="34.80" y="315.60" width="18.00" height="8.60" fill="#fff" stroke="#e4854a" stroke-width="1.0" rx="0" />
<text x="43.80" y="322.30" font-size="7.06" fill="#e8863a" stroke="#e8863a" stroke-width="0.2" text-anchor="middle" textLength="13.5" lengthAdjust="spacingAndGlyphs">CD8</text>
<rect x="53.60" y="315.60" width="21.80" height="8.60" fill="#fff" stroke="#5586c6" stroke-width="1.0" rx="0" />
<text x="64.50" y="322.30" font-size="7.06" fill="#333" stroke="#333" stroke-width="0.2" text-anchor="middle" textLength="18.2" lengthAdjust="spacingAndGlyphs">mB7-1</text>
<rect x="76.50" y="315.60" width="21.40" height="8.60" fill="#fff" stroke="#d6b456" stroke-width="1.0" rx="0" />
<text x="87.20" y="322.30" font-size="7.06" fill="#333" stroke="#333" stroke-width="0.2" text-anchor="middle" textLength="18.2" lengthAdjust="spacingAndGlyphs">mB7-1</text>
<line x1="36.00" y1="314.10" x2="51.50" y2="314.10" stroke="#222" stroke-width="0.8" />
<path d="M34.6,314.1 l2.4,-1.3 l0,2.6 Z" fill="#222" stroke="none" stroke-width="1" />
<path d="M52.9,314.1 l-2.4,-1.3 l0,2.6 Z" fill="#222" stroke="none" stroke-width="1" />
<text x="43.70" y="312.18" font-size="4.07" fill="#333" stroke="#333" stroke-width="0.2" text-anchor="middle">41 AA</text>
<text x="115.80" y="322.15" font-size="6.63" fill="#e8863a" stroke="#e8863a" stroke-width="0.2" text-anchor="middle" textLength="11.5" lengthAdjust="spacingAndGlyphs">CD8</text>
<rect x="6.80" y="332.90" width="27.20" height="8.60" fill="#fff" stroke="#e4854a" stroke-width="1.0" rx="0" />
<text x="20.40" y="339.60" font-size="7.06" fill="#333" stroke="#333" stroke-width="0.2" text-anchor="middle" textLength="24.2" lengthAdjust="spacingAndGlyphs">CD300a</text>
<rect x="34.80" y="332.90" width="18.00" height="8.60" fill="#fff" stroke="#c8c8c8" stroke-width="1.0" rx="0" />
<text x="43.80" y="339.60" font-size="7.06" fill="#bdbdbd" stroke="#bdbdbd" stroke-width="0.2" text-anchor="middle" textLength="14.5" lengthAdjust="spacingAndGlyphs">IgG1</text>
<rect x="53.60" y="332.90" width="21.80" height="8.60" fill="#fff" stroke="#5586c6" stroke-width="1.0" rx="0" />
<text x="64.50" y="339.60" font-size="7.06" fill="#333" stroke="#333" stroke-width="0.2" text-anchor="middle" textLength="18.2" lengthAdjust="spacingAndGlyphs">mB7-1</text>
<rect x="76.50" y="332.90" width="21.40" height="8.60" fill="#fff" stroke="#d6b456" stroke-width="1.0" rx="0" />
<text x="87.20" y="339.60" font-size="7.06" fill="#333" stroke="#333" stroke-width="0.2" text-anchor="middle" textLength="18.2" lengthAdjust="spacingAndGlyphs">mB7-1</text>
<line x1="36.00" y1="331.40" x2="51.50" y2="331.40" stroke="#222" stroke-width="0.8" />
<path d="M34.6,331.40000000000003 l2.4,-1.3 l0,2.6 Z" fill="#222" stroke="none" stroke-width="1" />
<path d="M52.9,331.40000000000003 l-2.4,-1.3 l0,2.6 Z" fill="#222" stroke="none" stroke-width="1" />
<text x="43.70" y="329.48" font-size="4.07" fill="#333" stroke="#333" stroke-width="0.2" text-anchor="middle">12 AA</text>
<text x="115.80" y="339.45" font-size="6.63" fill="#bdbdbd" stroke="#bdbdbd" stroke-width="0.2" text-anchor="middle" textLength="13.8" lengthAdjust="spacingAndGlyphs">IgG1</text>
<rect x="6.80" y="350.20" width="27.20" height="8.60" fill="#fff" stroke="#e4854a" stroke-width="1.0" rx="0" />
<text x="20.40" y="356.90" font-size="7.06" fill="#333" stroke="#333" stroke-width="0.2" text-anchor="middle" textLength="24.2" lengthAdjust="spacingAndGlyphs">CD300a</text>
<rect x="34.80" y="350.20" width="18.00" height="8.60" fill="#fff" stroke="#c8c8c8" stroke-width="1.0" rx="0" />
<text x="43.80" y="356.90" font-size="7.06" fill="#bdbdbd" stroke="#bdbdbd" stroke-width="0.2" text-anchor="middle" textLength="14.5" lengthAdjust="spacingAndGlyphs">IgG2</text>
<rect x="53.60" y="350.20" width="21.80" height="8.60" fill="#fff" stroke="#5586c6" stroke-width="1.0" rx="0" />
<text x="64.50" y="356.90" font-size="7.06" fill="#333" stroke="#333" stroke-width="0.2" text-anchor="middle" textLength="18.2" lengthAdjust="spacingAndGlyphs">mB7-1</text>
<rect x="76.50" y="350.20" width="21.40" height="8.60" fill="#fff" stroke="#d6b456" stroke-width="1.0" rx="0" />
<text x="87.20" y="356.90" font-size="7.06" fill="#333" stroke="#333" stroke-width="0.2" text-anchor="middle" textLength="18.2" lengthAdjust="spacingAndGlyphs">mB7-1</text>
<line x1="36.00" y1="348.70" x2="51.50" y2="348.70" stroke="#222" stroke-width="0.8" />
<path d="M34.6,348.70000000000005 l2.4,-1.3 l0,2.6 Z" fill="#222" stroke="none" stroke-width="1" />
<path d="M52.9,348.70000000000005 l-2.4,-1.3 l0,2.6 Z" fill="#222" stroke="none" stroke-width="1" />
<text x="43.70" y="346.78" font-size="4.07" fill="#333" stroke="#333" stroke-width="0.2" text-anchor="middle">12 AA</text>
<text x="115.80" y="356.75" font-size="6.63" fill="#bdbdbd" stroke="#bdbdbd" stroke-width="0.2" text-anchor="middle" textLength="13.8" lengthAdjust="spacingAndGlyphs">IgG2</text>
<rect x="6.80" y="367.50" width="27.20" height="8.60" fill="#fff" stroke="#e4854a" stroke-width="1.0" rx="0" />
<text x="20.40" y="374.20" font-size="7.06" fill="#333" stroke="#333" stroke-width="0.2" text-anchor="middle" textLength="24.2" lengthAdjust="spacingAndGlyphs">CD300a</text>
<rect x="34.80" y="367.50" width="18.00" height="8.60" fill="#fff" stroke="#c8c8c8" stroke-width="1.0" rx="0" />
<text x="43.80" y="374.20" font-size="7.06" fill="#bdbdbd" stroke="#bdbdbd" stroke-width="0.2" text-anchor="middle" textLength="14.5" lengthAdjust="spacingAndGlyphs">IgG3</text>
<rect x="53.60" y="367.50" width="21.80" height="8.60" fill="#fff" stroke="#5586c6" stroke-width="1.0" rx="0" />
<text x="64.50" y="374.20" font-size="7.06" fill="#333" stroke="#333" stroke-width="0.2" text-anchor="middle" textLength="18.2" lengthAdjust="spacingAndGlyphs">mB7-1</text>
<rect x="76.50" y="367.50" width="21.40" height="8.60" fill="#fff" stroke="#d6b456" stroke-width="1.0" rx="0" />
<text x="87.20" y="374.20" font-size="7.06" fill="#333" stroke="#333" stroke-width="0.2" text-anchor="middle" textLength="18.2" lengthAdjust="spacingAndGlyphs">mB7-1</text>
<line x1="36.00" y1="366.00" x2="51.50" y2="366.00" stroke="#222" stroke-width="0.8" />
<path d="M34.6,366.0 l2.4,-1.3 l0,2.6 Z" fill="#222" stroke="none" stroke-width="1" />
<path d="M52.9,366.0 l-2.4,-1.3 l0,2.6 Z" fill="#222" stroke="none" stroke-width="1" />
<text x="43.70" y="364.08" font-size="4.07" fill="#333" stroke="#333" stroke-width="0.2" text-anchor="middle">62 AA</text>
<text x="115.80" y="374.05" font-size="6.63" fill="#bdbdbd" stroke="#bdbdbd" stroke-width="0.2" text-anchor="middle" textLength="13.8" lengthAdjust="spacingAndGlyphs">IgG3</text>
<rect x="6.80" y="384.80" width="27.20" height="8.60" fill="#fff" stroke="#e4854a" stroke-width="1.0" rx="0" />
<text x="20.40" y="391.50" font-size="7.06" fill="#333" stroke="#333" stroke-width="0.2" text-anchor="middle" textLength="24.2" lengthAdjust="spacingAndGlyphs">CD300a</text>
<line x1="34.00" y1="389.10" x2="53.50" y2="389.10" stroke="#e0406a" stroke-width="0.9" />
<rect x="53.60" y="384.80" width="21.80" height="8.60" fill="#fff" stroke="#5586c6" stroke-width="1.0" rx="0" />
<text x="64.50" y="391.50" font-size="7.06" fill="#333" stroke="#333" stroke-width="0.2" text-anchor="middle" textLength="18.2" lengthAdjust="spacingAndGlyphs">mB7-1</text>
<rect x="76.50" y="384.80" width="21.40" height="8.60" fill="#fff" stroke="#d6b456" stroke-width="1.0" rx="0" />
<text x="87.20" y="391.50" font-size="7.06" fill="#333" stroke="#333" stroke-width="0.2" text-anchor="middle" textLength="18.2" lengthAdjust="spacingAndGlyphs">mB7-1</text>
<line x1="36.00" y1="383.30" x2="51.50" y2="383.30" stroke="#222" stroke-width="0.8" />
<path d="M34.6,383.3 l2.4,-1.3 l0,2.6 Z" fill="#222" stroke="none" stroke-width="1" />
<path d="M52.9,383.3 l-2.4,-1.3 l0,2.6 Z" fill="#222" stroke="none" stroke-width="1" />
<text x="43.70" y="381.38" font-size="4.07" fill="#333" stroke="#333" stroke-width="0.2" text-anchor="middle">0 AA</text>
<text x="115.80" y="391.35" font-size="6.63" fill="#d6307a" stroke="#d6307a" stroke-width="0.2" text-anchor="middle" textLength="25.9" lengthAdjust="spacingAndGlyphs">No Hinge</text>
<text x="115.80" y="406.05" font-size="6.63" fill="#3a3a3a" stroke="#3a3a3a" stroke-width="0.2" text-anchor="middle" textLength="25.2" lengthAdjust="spacingAndGlyphs">No Cloak</text>
<text x="171.00" y="306.85" font-size="6.63" fill="#3a3a3a" stroke="#3a3a3a" stroke-width="0.2" text-anchor="middle" textLength="46" lengthAdjust="spacingAndGlyphs">Expression Level</text>
<path d="M140.00,328.32 L140.69,328.31 L141.37,328.31 L142.06,328.30 L142.75,328.29 L143.43,328.28 L144.12,328.27 L144.81,328.26 L145.49,328.24 L146.18,328.23 L146.87,328.22 L147.55,328.20 L148.24,328.19 L148.93,328.17 L149.61,328.16 L150.30,328.14 L150.99,328.12 L151.67,328.11 L152.36,328.09 L153.05,328.07 L153.73,328.04 L154.42,328.02 L155.11,328.00 L155.79,327.98 L156.48,327.95 L157.17,327.93 L157.85,327.90 L158.54,327.88 L159.23,327.85 L159.91,327.83 L160.60,327.80 L161.29,327.77 L161.97,327.75 L162.66,327.72 L163.35,327.69 L164.03,327.66 L164.72,327.64 L165.41,327.61 L166.09,327.58 L166.78,327.51 L167.47,327.24 L168.15,326.91 L168.84,326.51 L169.53,326.04 L170.21,325.48 L170.90,324.84 L171.59,324.12 L172.27,323.31 L172.96,322.43 L173.65,321.49 L174.33,320.51 L175.02,319.50 L175.71,318.49 L176.39,317.52 L177.08,316.60 L177.77,315.77 L178.45,315.05 L179.14,314.48 L179.83,314.08 L180.51,313.85 L181.20,313.82 L181.89,314.14 L182.57,314.84 L183.26,315.86 L183.95,317.12 L184.63,318.54 L185.32,320.02 L186.01,321.47 L186.69,322.83 L187.38,324.05 L188.07,325.09 L188.75,325.96 L189.44,326.64 L190.13,327.17 L190.81,327.57 L191.50,327.85 L192.19,328.05 L192.87,328.18 L193.56,328.27 L194.25,328.32 L194.93,328.35 L195.62,328.37 L196.31,328.39 L196.99,328.39 L197.68,328.40 L198.37,328.40 L199.05,328.40 L199.74,328.40 L200.43,328.40 L201.11,328.40 L201.80,328.40 L201.8,328.4 L140.0,328.4 Z" fill="#f8c894" stroke="none" stroke-width="1" />
<path d="M140.00,328.32 L140.69,328.31 L141.37,328.31 L142.06,328.30 L142.75,328.29 L143.43,328.28 L144.12,328.27 L144.81,328.26 L145.49,328.24 L146.18,328.23 L146.87,328.22 L147.55,328.20 L148.24,328.19 L148.93,328.17 L149.61,328.16 L150.30,328.14 L150.99,328.12 L151.67,328.11 L152.36,328.09 L153.05,328.07 L153.73,328.04 L154.42,328.02 L155.11,328.00 L155.79,327.98 L156.48,327.95 L157.17,327.93 L157.85,327.90 L158.54,327.88 L159.23,327.85 L159.91,327.83 L160.60,327.80 L161.29,327.77 L161.97,327.75 L162.66,327.72 L163.35,327.69 L164.03,327.66 L164.72,327.64 L165.41,327.61 L166.09,327.58 L166.78,327.51 L167.47,327.24 L168.15,326.91 L168.84,326.51 L169.53,326.04 L170.21,325.48 L170.90,324.84 L171.59,324.12 L172.27,323.31 L172.96,322.43 L173.65,321.49 L174.33,320.51 L175.02,319.50 L175.71,318.49 L176.39,317.52 L177.08,316.60 L177.77,315.77 L178.45,315.05 L179.14,314.48 L179.83,314.08 L180.51,313.85 L181.20,313.82 L181.89,314.14 L182.57,314.84 L183.26,315.86 L183.95,317.12 L184.63,318.54 L185.32,320.02 L186.01,321.47 L186.69,322.83 L187.38,324.05 L188.07,325.09 L188.75,325.96 L189.44,326.64 L190.13,327.17 L190.81,327.57 L191.50,327.85 L192.19,328.05 L192.87,328.18 L193.56,328.27 L194.25,328.32 L194.93,328.35 L195.62,328.37 L196.31,328.39 L196.99,328.39 L197.68,328.40 L198.37,328.40 L199.05,328.40 L199.74,328.40 L200.43,328.40 L201.11,328.40 L201.80,328.40" fill="none" stroke="#d8863a" stroke-width="1.0" />
<path d="M140.00,345.14 L140.69,345.13 L141.37,345.13 L142.06,345.12 L142.75,345.11 L143.43,345.11 L144.12,345.10 L144.81,345.09 L145.49,345.08 L146.18,345.07 L146.87,345.06 L147.55,345.05 L148.24,345.04 L148.93,345.03 L149.61,345.01 L150.30,345.00 L150.99,344.99 L151.67,344.97 L152.36,344.96 L153.05,344.94 L153.73,344.92 L154.42,344.91 L155.11,344.89 L155.79,344.87 L156.48,344.85 L157.17,344.83 L157.85,344.81 L158.54,344.79 L159.23,344.77 L159.91,344.75 L160.60,344.73 L161.29,344.71 L161.97,344.69 L162.66,344.67 L163.35,344.64 L164.03,344.62 L164.72,344.60 L165.41,344.58 L166.09,344.56 L166.78,344.39 L167.47,344.14 L168.15,343.82 L168.84,343.44 L169.53,342.98 L170.21,342.44 L170.90,341.81 L171.59,341.09 L172.27,340.27 L172.96,339.38 L173.65,338.41 L174.33,337.38 L175.02,336.32 L175.71,335.24 L176.39,334.17 L177.08,333.15 L177.77,332.21 L178.45,331.37 L179.14,330.66 L179.83,330.13 L180.51,329.77 L181.20,329.61 L181.89,329.70 L182.57,330.19 L183.26,331.03 L183.95,332.17 L184.63,333.53 L185.32,335.02 L186.01,336.55 L186.69,338.04 L187.38,339.42 L188.07,340.66 L188.75,341.73 L189.44,342.61 L190.13,343.32 L190.81,343.87 L191.50,344.28 L192.19,344.58 L192.87,344.80 L193.56,344.94 L194.25,345.04 L194.93,345.10 L195.62,345.14 L196.31,345.17 L196.99,345.18 L197.68,345.19 L198.37,345.19 L199.05,345.20 L199.74,345.20 L200.43,345.20 L201.11,345.20 L201.80,345.20 L201.8,345.2 L140.0,345.2 Z" fill="#d6d6da" stroke="none" stroke-width="1" />
<path d="M140.00,345.14 L140.69,345.13 L141.37,345.13 L142.06,345.12 L142.75,345.11 L143.43,345.11 L144.12,345.10 L144.81,345.09 L145.49,345.08 L146.18,345.07 L146.87,345.06 L147.55,345.05 L148.24,345.04 L148.93,345.03 L149.61,345.01 L150.30,345.00 L150.99,344.99 L151.67,344.97 L152.36,344.96 L153.05,344.94 L153.73,344.92 L154.42,344.91 L155.11,344.89 L155.79,344.87 L156.48,344.85 L157.17,344.83 L157.85,344.81 L158.54,344.79 L159.23,344.77 L159.91,344.75 L160.60,344.73 L161.29,344.71 L161.97,344.69 L162.66,344.67 L163.35,344.64 L164.03,344.62 L164.72,344.60 L165.41,344.58 L166.09,344.56 L166.78,344.39 L167.47,344.14 L168.15,343.82 L168.84,343.44 L169.53,342.98 L170.21,342.44 L170.90,341.81 L171.59,341.09 L172.27,340.27 L172.96,339.38 L173.65,338.41 L174.33,337.38 L175.02,336.32 L175.71,335.24 L176.39,334.17 L177.08,333.15 L177.77,332.21 L178.45,331.37 L179.14,330.66 L179.83,330.13 L180.51,329.77 L181.20,329.61 L181.89,329.70 L182.57,330.19 L183.26,331.03 L183.95,332.17 L184.63,333.53 L185.32,335.02 L186.01,336.55 L186.69,338.04 L187.38,339.42 L188.07,340.66 L188.75,341.73 L189.44,342.61 L190.13,343.32 L190.81,343.87 L191.50,344.28 L192.19,344.58 L192.87,344.80 L193.56,344.94 L194.25,345.04 L194.93,345.10 L195.62,345.14 L196.31,345.17 L196.99,345.18 L197.68,345.19 L198.37,345.19 L199.05,345.20 L199.74,345.20 L200.43,345.20 L201.11,345.20 L201.80,345.20" fill="none" stroke="#85858c" stroke-width="1.0" />
<path d="M140.00,362.12 L140.69,362.12 L141.37,362.11 L142.06,362.10 L142.75,362.09 L143.43,362.08 L144.12,362.07 L144.81,362.06 L145.49,362.05 L146.18,362.04 L146.87,362.03 L147.55,362.02 L148.24,362.00 L148.93,361.99 L149.61,361.98 L150.30,361.96 L150.99,361.94 L151.67,361.93 L152.36,361.91 L153.05,361.89 L153.73,361.88 L154.42,361.86 L155.11,361.84 L155.79,361.82 L156.48,361.80 L157.17,361.78 L157.85,361.76 L158.54,361.73 L159.23,361.71 L159.91,361.69 L160.60,361.67 L161.29,361.65 L161.97,361.62 L162.66,361.60 L163.35,361.58 L164.03,361.56 L164.72,361.46 L165.41,361.23 L166.09,360.94 L166.78,360.58 L167.47,360.14 L168.15,359.62 L168.84,359.02 L169.53,358.32 L170.21,357.53 L170.90,356.66 L171.59,355.70 L172.27,354.68 L172.96,353.62 L173.65,352.53 L174.33,351.44 L175.02,350.38 L175.71,349.39 L176.39,348.50 L177.08,347.73 L177.77,347.12 L178.45,346.68 L179.14,346.45 L179.83,346.42 L180.51,346.76 L181.20,347.48 L181.89,348.54 L182.57,349.84 L183.26,351.31 L183.95,352.85 L184.63,354.38 L185.32,355.83 L186.01,357.15 L186.69,358.29 L187.38,359.26 L188.07,360.04 L188.75,360.66 L189.44,361.13 L190.13,361.47 L190.81,361.72 L191.50,361.89 L192.19,362.01 L192.87,362.08 L193.56,362.13 L194.25,362.16 L194.93,362.18 L195.62,362.19 L196.31,362.19 L196.99,362.20 L197.68,362.20 L198.37,362.20 L199.05,362.20 L199.74,362.20 L200.43,362.20 L201.11,362.20 L201.80,362.20 L201.8,362.2 L140.0,362.2 Z" fill="#d6d6da" stroke="none" stroke-width="1" />
<path d="M140.00,362.12 L140.69,362.12 L141.37,362.11 L142.06,362.10 L142.75,362.09 L143.43,362.08 L144.12,362.07 L144.81,362.06 L145.49,362.05 L146.18,362.04 L146.87,362.03 L147.55,362.02 L148.24,362.00 L148.93,361.99 L149.61,361.98 L150.30,361.96 L150.99,361.94 L151.67,361.93 L152.36,361.91 L153.05,361.89 L153.73,361.88 L154.42,361.86 L155.11,361.84 L155.79,361.82 L156.48,361.80 L157.17,361.78 L157.85,361.76 L158.54,361.73 L159.23,361.71 L159.91,361.69 L160.60,361.67 L161.29,361.65 L161.97,361.62 L162.66,361.60 L163.35,361.58 L164.03,361.56 L164.72,361.46 L165.41,361.23 L166.09,360.94 L166.78,360.58 L167.47,360.14 L168.15,359.62 L168.84,359.02 L169.53,358.32 L170.21,357.53 L170.90,356.66 L171.59,355.70 L172.27,354.68 L172.96,353.62 L173.65,352.53 L174.33,351.44 L175.02,350.38 L175.71,349.39 L176.39,348.50 L177.08,347.73 L177.77,347.12 L178.45,346.68 L179.14,346.45 L179.83,346.42 L180.51,346.76 L181.20,347.48 L181.89,348.54 L182.57,349.84 L183.26,351.31 L183.95,352.85 L184.63,354.38 L185.32,355.83 L186.01,357.15 L186.69,358.29 L187.38,359.26 L188.07,360.04 L188.75,360.66 L189.44,361.13 L190.13,361.47 L190.81,361.72 L191.50,361.89 L192.19,362.01 L192.87,362.08 L193.56,362.13 L194.25,362.16 L194.93,362.18 L195.62,362.19 L196.31,362.19 L196.99,362.20 L197.68,362.20 L198.37,362.20 L199.05,362.20 L199.74,362.20 L200.43,362.20 L201.11,362.20 L201.80,362.20" fill="none" stroke="#85858c" stroke-width="1.0" />
<path d="M140.00,378.27 L140.69,378.27 L141.37,378.27 L142.06,378.26 L142.75,378.26 L143.43,378.25 L144.12,378.25 L144.81,378.25 L145.49,378.24 L146.18,378.23 L146.87,378.23 L147.55,378.22 L148.24,378.21 L148.93,378.21 L149.61,378.20 L150.30,378.19 L150.99,378.18 L151.67,378.17 L152.36,378.16 L153.05,378.15 L153.73,378.14 L154.42,378.13 L155.11,378.11 L155.79,378.10 L156.48,378.09 L157.17,378.07 L157.85,378.06 L158.54,378.04 L159.23,378.02 L159.91,378.01 L160.60,377.99 L161.29,377.97 L161.97,377.95 L162.66,377.93 L163.35,377.91 L164.03,377.89 L164.72,377.87 L165.41,377.85 L166.09,377.83 L166.78,377.80 L167.47,377.78 L168.15,377.76 L168.84,377.74 L169.53,377.71 L170.21,377.69 L170.90,377.67 L171.59,377.65 L172.27,377.62 L172.96,377.60 L173.65,377.39 L174.33,377.09 L175.02,376.71 L175.71,376.26 L176.39,375.70 L177.08,375.05 L177.77,374.29 L178.45,373.43 L179.14,372.47 L179.83,371.41 L180.51,370.29 L181.20,369.13 L181.89,367.94 L182.57,366.78 L183.26,365.67 L183.95,364.65 L184.63,363.77 L185.32,363.07 L186.01,362.55 L186.69,362.26 L187.38,362.22 L188.07,362.64 L188.75,363.57 L189.44,364.93 L190.13,366.57 L190.81,368.37 L191.50,370.17 L192.19,371.88 L192.87,373.40 L193.56,374.69 L194.25,375.73 L194.93,376.54 L195.62,377.13 L196.31,377.55 L196.99,377.84 L197.68,378.02 L198.37,378.14 L199.05,378.21 L199.74,378.25 L200.43,378.28 L201.11,378.29 L201.80,378.29 L201.8,378.3 L140.0,378.3 Z" fill="#d6d6da" stroke="none" stroke-width="1" />
<path d="M140.00,378.27 L140.69,378.27 L141.37,378.27 L142.06,378.26 L142.75,378.26 L143.43,378.25 L144.12,378.25 L144.81,378.25 L145.49,378.24 L146.18,378.23 L146.87,378.23 L147.55,378.22 L148.24,378.21 L148.93,378.21 L149.61,378.20 L150.30,378.19 L150.99,378.18 L151.67,378.17 L152.36,378.16 L153.05,378.15 L153.73,378.14 L154.42,378.13 L155.11,378.11 L155.79,378.10 L156.48,378.09 L157.17,378.07 L157.85,378.06 L158.54,378.04 L159.23,378.02 L159.91,378.01 L160.60,377.99 L161.29,377.97 L161.97,377.95 L162.66,377.93 L163.35,377.91 L164.03,377.89 L164.72,377.87 L165.41,377.85 L166.09,377.83 L166.78,377.80 L167.47,377.78 L168.15,377.76 L168.84,377.74 L169.53,377.71 L170.21,377.69 L170.90,377.67 L171.59,377.65 L172.27,377.62 L172.96,377.60 L173.65,377.39 L174.33,377.09 L175.02,376.71 L175.71,376.26 L176.39,375.70 L177.08,375.05 L177.77,374.29 L178.45,373.43 L179.14,372.47 L179.83,371.41 L180.51,370.29 L181.20,369.13 L181.89,367.94 L182.57,366.78 L183.26,365.67 L183.95,364.65 L184.63,363.77 L185.32,363.07 L186.01,362.55 L186.69,362.26 L187.38,362.22 L188.07,362.64 L188.75,363.57 L189.44,364.93 L190.13,366.57 L190.81,368.37 L191.50,370.17 L192.19,371.88 L192.87,373.40 L193.56,374.69 L194.25,375.73 L194.93,376.54 L195.62,377.13 L196.31,377.55 L196.99,377.84 L197.68,378.02 L198.37,378.14 L199.05,378.21 L199.74,378.25 L200.43,378.28 L201.11,378.29 L201.80,378.29" fill="none" stroke="#85858c" stroke-width="1.0" />
<path d="M140.00,394.43 L140.69,394.42 L141.37,394.41 L142.06,394.39 L142.75,394.38 L143.43,394.36 L144.12,394.35 L144.81,394.33 L145.49,394.31 L146.18,394.29 L146.87,394.27 L147.55,394.25 L148.24,394.22 L148.93,394.20 L149.61,394.18 L150.30,394.15 L150.99,394.13 L151.67,394.10 L152.36,394.07 L153.05,394.04 L153.73,394.01 L154.42,393.98 L155.11,393.95 L155.79,393.92 L156.48,393.89 L157.17,393.85 L157.85,393.82 L158.54,393.78 L159.23,393.75 L159.91,393.71 L160.60,393.68 L161.29,393.64 L161.97,393.60 L162.66,393.57 L163.35,393.53 L164.03,393.49 L164.72,393.46 L165.41,393.42 L166.09,393.38 L166.78,393.35 L167.47,393.31 L168.15,393.28 L168.84,393.24 L169.53,393.21 L170.21,393.18 L170.90,393.12 L171.59,392.69 L172.27,392.18 L172.96,391.58 L173.65,390.88 L174.33,390.08 L175.02,389.20 L175.71,388.24 L176.39,387.22 L177.08,386.16 L177.77,385.08 L178.45,384.03 L179.14,383.03 L179.83,382.13 L180.51,381.34 L181.20,380.72 L181.89,380.28 L182.57,380.04 L183.26,380.03 L183.95,380.41 L184.63,381.19 L185.32,382.30 L186.01,383.66 L186.69,385.15 L187.38,386.68 L188.07,388.16 L188.75,389.52 L189.44,390.71 L190.13,391.71 L190.81,392.52 L191.50,393.14 L192.19,393.61 L192.87,393.95 L193.56,394.18 L194.25,394.34 L194.93,394.44 L195.62,394.51 L196.31,394.55 L196.99,394.57 L197.68,394.58 L198.37,394.59 L199.05,394.60 L199.74,394.60 L200.43,394.60 L201.11,394.60 L201.80,394.60 L201.8,394.6 L140.0,394.6 Z" fill="#f2a6cb" stroke="none" stroke-width="1" />
<path d="M140.00,394.43 L140.69,394.42 L141.37,394.41 L142.06,394.39 L142.75,394.38 L143.43,394.36 L144.12,394.35 L144.81,394.33 L145.49,394.31 L146.18,394.29 L146.87,394.27 L147.55,394.25 L148.24,394.22 L148.93,394.20 L149.61,394.18 L150.30,394.15 L150.99,394.13 L151.67,394.10 L152.36,394.07 L153.05,394.04 L153.73,394.01 L154.42,393.98 L155.11,393.95 L155.79,393.92 L156.48,393.89 L157.17,393.85 L157.85,393.82 L158.54,393.78 L159.23,393.75 L159.91,393.71 L160.60,393.68 L161.29,393.64 L161.97,393.60 L162.66,393.57 L163.35,393.53 L164.03,393.49 L164.72,393.46 L165.41,393.42 L166.09,393.38 L166.78,393.35 L167.47,393.31 L168.15,393.28 L168.84,393.24 L169.53,393.21 L170.21,393.18 L170.90,393.12 L171.59,392.69 L172.27,392.18 L172.96,391.58 L173.65,390.88 L174.33,390.08 L175.02,389.20 L175.71,388.24 L176.39,387.22 L177.08,386.16 L177.77,385.08 L178.45,384.03 L179.14,383.03 L179.83,382.13 L180.51,381.34 L181.20,380.72 L181.89,380.28 L182.57,380.04 L183.26,380.03 L183.95,380.41 L184.63,381.19 L185.32,382.30 L186.01,383.66 L186.69,385.15 L187.38,386.68 L188.07,388.16 L188.75,389.52 L189.44,390.71 L190.13,391.71 L190.81,392.52 L191.50,393.14 L192.19,393.61 L192.87,393.95 L193.56,394.18 L194.25,394.34 L194.93,394.44 L195.62,394.51 L196.31,394.55 L196.99,394.57 L197.68,394.58 L198.37,394.59 L199.05,394.60 L199.74,394.60 L200.43,394.60 L201.11,394.60 L201.80,394.60" fill="none" stroke="#b8285e" stroke-width="1.0" />
<path d="M140.00,410.27 L140.69,410.24 L141.37,410.19 L142.06,410.09 L142.75,409.91 L143.43,409.63 L144.12,409.19 L144.81,408.55 L145.49,407.66 L146.18,406.49 L146.87,405.04 L147.55,403.35 L148.24,401.53 L148.93,399.70 L149.61,398.05 L150.30,396.75 L150.99,395.98 L151.67,395.82 L152.36,396.34 L153.05,397.49 L153.73,399.09 L154.42,400.97 L155.11,402.89 L155.79,404.70 L156.48,406.27 L157.17,407.54 L157.85,408.50 L158.54,409.18 L159.23,409.64 L159.91,409.93 L160.60,410.10 L161.29,410.20 L161.97,410.25 L162.66,410.28 L163.35,410.29 L164.03,410.30 L164.72,410.30 L165.41,410.30 L166.09,410.30 L166.78,410.30 L167.47,410.30 L168.15,410.30 L168.84,410.30 L169.53,410.30 L170.21,410.30 L170.90,410.30 L171.59,410.30 L172.27,410.30 L172.96,410.30 L173.65,410.30 L174.33,410.30 L175.02,410.30 L175.71,410.30 L176.39,410.30 L177.08,410.30 L177.77,410.30 L178.45,410.30 L179.14,410.30 L179.83,410.30 L180.51,410.30 L181.20,410.30 L181.89,410.30 L182.57,410.30 L183.26,410.30 L183.95,410.30 L184.63,410.30 L185.32,410.30 L186.01,410.30 L186.69,410.30 L187.38,410.30 L188.07,410.30 L188.75,410.30 L189.44,410.30 L190.13,410.30 L190.81,410.30 L191.50,410.30 L192.19,410.30 L192.87,410.30 L193.56,410.30 L194.25,410.30 L194.93,410.30 L195.62,410.30 L196.31,410.30 L196.99,410.30 L197.68,410.30 L198.37,410.30 L199.05,410.30 L199.74,410.30 L200.43,410.30 L201.11,410.30 L201.80,410.30 L201.8,410.3 L140.0,410.3 Z" fill="#7d8190" stroke="none" stroke-width="1" />
<path d="M140.00,410.27 L140.69,410.24 L141.37,410.19 L142.06,410.09 L142.75,409.91 L143.43,409.63 L144.12,409.19 L144.81,408.55 L145.49,407.66 L146.18,406.49 L146.87,405.04 L147.55,403.35 L148.24,401.53 L148.93,399.70 L149.61,398.05 L150.30,396.75 L150.99,395.98 L151.67,395.82 L152.36,396.34 L153.05,397.49 L153.73,399.09 L154.42,400.97 L155.11,402.89 L155.79,404.70 L156.48,406.27 L157.17,407.54 L157.85,408.50 L158.54,409.18 L159.23,409.64 L159.91,409.93 L160.60,410.10 L161.29,410.20 L161.97,410.25 L162.66,410.28 L163.35,410.29 L164.03,410.30 L164.72,410.30 L165.41,410.30 L166.09,410.30 L166.78,410.30 L167.47,410.30 L168.15,410.30 L168.84,410.30 L169.53,410.30 L170.21,410.30 L170.90,410.30 L171.59,410.30 L172.27,410.30 L172.96,410.30 L173.65,410.30 L174.33,410.30 L175.02,410.30 L175.71,410.30 L176.39,410.30 L177.08,410.30 L177.77,410.30 L178.45,410.30 L179.14,410.30 L179.83,410.30 L180.51,410.30 L181.20,410.30 L181.89,410.30 L182.57,410.30 L183.26,410.30 L183.95,410.30 L184.63,410.30 L185.32,410.30 L186.01,410.30 L186.69,410.30 L187.38,410.30 L188.07,410.30 L188.75,410.30 L189.44,410.30 L190.13,410.30 L190.81,410.30 L191.50,410.30 L192.19,410.30 L192.87,410.30 L193.56,410.30 L194.25,410.30 L194.93,410.30 L195.62,410.30 L196.31,410.30 L196.99,410.30 L197.68,410.30 L198.37,410.30 L199.05,410.30 L199.74,410.30 L200.43,410.30 L201.11,410.30 L201.80,410.30" fill="none" stroke="#30323c" stroke-width="1.0" />
<rect x="139.50" y="310.00" width="62.80" height="100.30" fill="none" stroke="#222" stroke-width="1.1" rx="0" />
<line x1="142.00" y1="410.30" x2="142.00" y2="412.00" stroke="#222" stroke-width="0.6" />
<line x1="143.50" y1="410.30" x2="143.50" y2="412.00" stroke="#222" stroke-width="0.6" />
<line x1="145.00" y1="410.30" x2="145.00" y2="412.00" stroke="#222" stroke-width="0.6" />
<line x1="146.60" y1="410.30" x2="146.60" y2="412.00" stroke="#222" stroke-width="0.6" />
<line x1="148.00" y1="410.30" x2="148.00" y2="412.00" stroke="#222" stroke-width="0.6" />
<line x1="150.00" y1="410.30" x2="150.00" y2="412.00" stroke="#222" stroke-width="0.6" />
<line x1="153.00" y1="410.30" x2="153.00" y2="412.00" stroke="#222" stroke-width="0.6" />
<line x1="157.00" y1="410.30" x2="157.00" y2="412.00" stroke="#222" stroke-width="0.6" />
<line x1="161.00" y1="410.30" x2="161.00" y2="412.00" stroke="#222" stroke-width="0.6" />
<line x1="164.50" y1="410.30" x2="164.50" y2="412.00" stroke="#222" stroke-width="0.6" />
<line x1="167.50" y1="410.30" x2="167.50" y2="412.00" stroke="#222" stroke-width="0.6" />
<line x1="170.30" y1="410.30" x2="170.30" y2="412.00" stroke="#222" stroke-width="0.6" />
<line x1="176.00" y1="410.30" x2="176.00" y2="412.00" stroke="#222" stroke-width="0.6" />
<line x1="180.00" y1="410.30" x2="180.00" y2="412.00" stroke="#222" stroke-width="0.6" />
<line x1="183.00" y1="410.30" x2="183.00" y2="412.00" stroke="#222" stroke-width="0.6" />
<line x1="185.30" y1="410.30" x2="185.30" y2="412.00" stroke="#222" stroke-width="0.6" />
<line x1="187.30" y1="410.30" x2="187.30" y2="412.00" stroke="#222" stroke-width="0.6" />
<line x1="189.20" y1="410.30" x2="189.20" y2="412.00" stroke="#222" stroke-width="0.6" />
<line x1="195.00" y1="410.30" x2="195.00" y2="412.00" stroke="#222" stroke-width="0.6" />
<line x1="199.00" y1="410.30" x2="199.00" y2="412.00" stroke="#222" stroke-width="0.6" />
<line x1="146.60" y1="410.30" x2="146.60" y2="413.00" stroke="#222" stroke-width="0.9" />
<line x1="170.30" y1="410.30" x2="170.30" y2="413.00" stroke="#222" stroke-width="0.9" />
<line x1="189.20" y1="410.30" x2="189.20" y2="413.00" stroke="#222" stroke-width="0.9" />
<text x="146.60" y="422.68" font-size="6.42" fill="#3a3a3a" stroke="#3a3a3a" stroke-width="0.2" text-anchor="middle">0</text>
<text x="170.30" y="422.88" font-size="6.42" fill="#3a3a3a" stroke="#3a3a3a" stroke-width="0.2" text-anchor="middle">10<tspan font-size="4" dy="-2.5">4</tspan></text>
<text x="189.20" y="422.88" font-size="6.42" fill="#3a3a3a" stroke="#3a3a3a" stroke-width="0.2" text-anchor="middle">10<tspan font-size="4" dy="-2.5">5</tspan></text>
<text x="170.60" y="433.97" font-size="8.45" fill="#333" text-anchor="middle" font-weight="bold" textLength="46.8" lengthAdjust="spacingAndGlyphs">PE CD300a ligand</text>
<text x="212.30" y="294.34" font-size="11.0" fill="#111" stroke="#111" stroke-width="0.5" font-weight="bold">F</text>
<line x1="240.20" y1="306.30" x2="240.20" y2="411.00" stroke="#2e2e2e" stroke-width="1.3" />
<line x1="239.60" y1="411.00" x2="331.50" y2="411.00" stroke="#2e2e2e" stroke-width="1.3" />
<line x1="237.20" y1="307.80" x2="240.20" y2="307.80" stroke="#2e2e2e" stroke-width="1.0" />
<text x="233.00" y="309.98" font-size="6.42" fill="#3a3a3a" stroke="#3a3a3a" stroke-width="0.2" text-anchor="end">100</text>
<line x1="237.20" y1="333.60" x2="240.20" y2="333.60" stroke="#2e2e2e" stroke-width="1.0" />
<text x="233.00" y="335.78" font-size="6.42" fill="#3a3a3a" stroke="#3a3a3a" stroke-width="0.2" text-anchor="end">75</text>
<line x1="237.20" y1="359.40" x2="240.20" y2="359.40" stroke="#2e2e2e" stroke-width="1.0" />
<text x="233.00" y="361.58" font-size="6.42" fill="#3a3a3a" stroke="#3a3a3a" stroke-width="0.2" text-anchor="end">50</text>
<line x1="237.20" y1="385.20" x2="240.20" y2="385.20" stroke="#2e2e2e" stroke-width="1.0" />
<text x="233.00" y="387.38" font-size="6.42" fill="#3a3a3a" stroke="#3a3a3a" stroke-width="0.2" text-anchor="end">25</text>
<line x1="237.20" y1="411.00" x2="240.20" y2="411.00" stroke="#2e2e2e" stroke-width="1.0" />
<text x="233.00" y="413.18" font-size="6.42" fill="#3a3a3a" stroke="#3a3a3a" stroke-width="0.2" text-anchor="end">0</text>
<line x1="254.00" y1="411.00" x2="254.00" y2="413.60" stroke="#2e2e2e" stroke-width="0.9" />
<line x1="279.00" y1="411.00" x2="279.00" y2="413.60" stroke="#2e2e2e" stroke-width="0.9" />
<line x1="304.00" y1="411.00" x2="304.00" y2="413.60" stroke="#2e2e2e" stroke-width="0.9" />
<line x1="329.00" y1="411.00" x2="329.00" y2="413.60" stroke="#2e2e2e" stroke-width="0.9" />
<line x1="244.05" y1="411.00" x2="244.05" y2="412.50" stroke="#2e2e2e" stroke-width="0.7" />
<line x1="246.47" y1="411.00" x2="246.47" y2="412.50" stroke="#2e2e2e" stroke-width="0.7" />
<line x1="248.45" y1="411.00" x2="248.45" y2="412.50" stroke="#2e2e2e" stroke-width="0.7" />
<line x1="250.13" y1="411.00" x2="250.13" y2="412.50" stroke="#2e2e2e" stroke-width="0.7" />
<line x1="251.58" y1="411.00" x2="251.58" y2="412.50" stroke="#2e2e2e" stroke-width="0.7" />
<line x1="252.86" y1="411.00" x2="252.86" y2="412.50" stroke="#2e2e2e" stroke-width="0.7" />
<line x1="261.53" y1="411.00" x2="261.53" y2="412.50" stroke="#2e2e2e" stroke-width="0.7" />
<line x1="265.93" y1="411.00" x2="265.93" y2="412.50" stroke="#2e2e2e" stroke-width="0.7" />
<line x1="269.05" y1="411.00" x2="269.05" y2="412.50" stroke="#2e2e2e" stroke-width="0.7" />
<line x1="271.47" y1="411.00" x2="271.47" y2="412.50" stroke="#2e2e2e" stroke-width="0.7" />
<line x1="273.45" y1="411.00" x2="273.45" y2="412.50" stroke="#2e2e2e" stroke-width="0.7" />
<line x1="275.13" y1="411.00" x2="275.13" y2="412.50" stroke="#2e2e2e" stroke-width="0.7" />
<line x1="276.58" y1="411.00" x2="276.58" y2="412.50" stroke="#2e2e2e" stroke-width="0.7" />
<line x1="277.86" y1="411.00" x2="277.86" y2="412.50" stroke="#2e2e2e" stroke-width="0.7" />
<line x1="286.53" y1="411.00" x2="286.53" y2="412.50" stroke="#2e2e2e" stroke-width="0.7" />
<line x1="290.93" y1="411.00" x2="290.93" y2="412.50" stroke="#2e2e2e" stroke-width="0.7" />
<line x1="294.05" y1="411.00" x2="294.05" y2="412.50" stroke="#2e2e2e" stroke-width="0.7" />
<line x1="296.47" y1="411.00" x2="296.47" y2="412.50" stroke="#2e2e2e" stroke-width="0.7" />
<line x1="298.45" y1="411.00" x2="298.45" y2="412.50" stroke="#2e2e2e" stroke-width="0.7" />
<line x1="300.13" y1="411.00" x2="300.13" y2="412.50" stroke="#2e2e2e" stroke-width="0.7" />
<line x1="301.58" y1="411.00" x2="301.58" y2="412.50" stroke="#2e2e2e" stroke-width="0.7" />
<line x1="302.86" y1="411.00" x2="302.86" y2="412.50" stroke="#2e2e2e" stroke-width="0.7" />
<line x1="311.53" y1="411.00" x2="311.53" y2="412.50" stroke="#2e2e2e" stroke-width="0.7" />
<line x1="315.93" y1="411.00" x2="315.93" y2="412.50" stroke="#2e2e2e" stroke-width="0.7" />
<line x1="319.05" y1="411.00" x2="319.05" y2="412.50" stroke="#2e2e2e" stroke-width="0.7" />
<line x1="321.47" y1="411.00" x2="321.47" y2="412.50" stroke="#2e2e2e" stroke-width="0.7" />
<line x1="323.45" y1="411.00" x2="323.45" y2="412.50" stroke="#2e2e2e" stroke-width="0.7" />
<line x1="325.13" y1="411.00" x2="325.13" y2="412.50" stroke="#2e2e2e" stroke-width="0.7" />
<line x1="326.58" y1="411.00" x2="326.58" y2="412.50" stroke="#2e2e2e" stroke-width="0.7" />
<line x1="327.86" y1="411.00" x2="327.86" y2="412.50" stroke="#2e2e2e" stroke-width="0.7" />
<text x="240.40" y="423.18" font-size="6.42" fill="#3a3a3a" stroke="#3a3a3a" stroke-width="0.2" text-anchor="middle">0</text>
<text x="253.40" y="423.18" font-size="6.42" fill="#3a3a3a" stroke="#3a3a3a" stroke-width="0.2" text-anchor="middle">0.01</text>
<text x="279.00" y="423.18" font-size="6.42" fill="#3a3a3a" stroke="#3a3a3a" stroke-width="0.2" text-anchor="middle">0.1</text>
<text x="304.00" y="423.18" font-size="6.42" fill="#3a3a3a" stroke="#3a3a3a" stroke-width="0.2" text-anchor="middle">1</text>
<text x="329.40" y="423.18" font-size="6.42" fill="#3a3a3a" stroke="#3a3a3a" stroke-width="0.2" text-anchor="middle">10</text>
<text x="286.70" y="434.87" font-size="8.45" fill="#333" text-anchor="middle" font-weight="bold" textLength="21.6" lengthAdjust="spacingAndGlyphs">E:T ratio</text>
<text x="214.80" y="362.75" font-size="7.81" fill="#333" text-anchor="middle" font-weight="bold" textLength="48" lengthAdjust="spacingAndGlyphs" transform="rotate(-90 214.80 360.10)">T cell survival (%)</text>
<line x1="240.90" y1="359.00" x2="292.80" y2="359.00" stroke="#222" stroke-width="1.25" stroke-dasharray="2.3,1.5"/>
<line x1="292.80" y1="359.00" x2="292.80" y2="411.00" stroke="#222" stroke-width="1.25" stroke-dasharray="2.3,1.5"/>
<text x="248.6" y="379.9" font-size="7.0" fill="#444" stroke="#444" stroke-width="0.2" textLength="23" lengthAdjust="spacingAndGlyphs">IC50<tspan font-size="4.0" dy="1.4">cloak</tspan></text>
<line x1="272.30" y1="383.20" x2="289.50" y2="392.30" stroke="#111" stroke-width="0.9" />
<path d="M291.2,393.2 L286.6,392.4 L288.6,388.8 Z" fill="#111" stroke="none" stroke-width="1" />
<path d="M240.20,307.80 C242.00,308.08 247.23,308.53 251.00,309.50 C254.77,310.47 258.67,312.35 262.80,313.60 C266.93,314.85 271.65,315.60 275.80,317.00 C279.95,318.40 283.73,320.00 287.70,322.00 C291.67,324.00 295.53,326.33 299.60,329.00 C303.67,331.67 307.95,334.67 312.10,338.00 C316.25,341.33 322.43,347.17 324.50,349.00" fill="none" stroke="#d62f7e" stroke-width="1.35" />
<path d="M240.20,307.80 C242.00,308.08 247.23,308.53 251.00,309.50 C254.77,310.47 258.67,312.18 262.80,313.60 C266.93,315.02 271.65,315.85 275.80,318.00 C279.95,320.15 283.73,323.25 287.70,326.50 C291.67,329.75 295.53,333.58 299.60,337.50 C303.67,341.42 307.95,345.75 312.10,350.00 C316.25,354.25 322.43,360.83 324.50,363.00" fill="none" stroke="#a0a0a8" stroke-width="1.35" />
<path d="M240.20,307.80 C242.00,308.08 247.23,308.53 251.00,309.50 C254.77,310.47 258.67,312.27 262.80,313.60 C266.93,314.93 271.65,315.60 275.80,317.50 C279.95,319.40 283.73,322.08 287.70,325.00 C291.67,327.92 295.53,331.33 299.60,335.00 C303.67,338.67 307.95,343.00 312.10,347.00 C316.25,351.00 322.43,357.00 324.50,359.00" fill="none" stroke="#9aa0b4" stroke-width="1.35" />
<path d="M240.20,307.80 C242.00,308.08 247.23,308.53 251.00,309.50 C254.77,310.47 258.67,311.27 262.80,313.60 C266.93,315.93 271.65,319.10 275.80,323.50 C279.95,327.90 283.73,334.08 287.70,340.00 C291.67,345.92 295.53,352.17 299.60,359.00 C303.67,365.83 307.95,374.58 312.10,381.00 C316.25,387.42 322.43,394.75 324.50,397.50" fill="none" stroke="#ec9a30" stroke-width="1.35" />
<path d="M240.20,307.80 C242.00,308.08 247.23,308.53 251.00,309.50 C254.77,310.47 258.67,311.10 262.80,313.60 C266.93,316.10 271.65,319.60 275.80,324.50 C279.95,329.40 283.73,336.42 287.70,343.00 C291.67,349.58 295.53,357.00 299.60,364.00 C303.67,371.00 307.95,378.92 312.10,385.00 C316.25,391.08 322.43,397.92 324.50,400.50" fill="none" stroke="#c8c0b0" stroke-width="1.0" />
<path d="M240.20,307.80 C242.00,308.08 247.23,308.53 251.00,309.50 C254.77,310.47 258.67,310.60 262.80,313.60 C266.93,316.60 271.65,321.52 275.80,327.50 C279.95,333.48 283.73,341.83 287.70,349.50 C291.67,357.17 295.53,366.25 299.60,373.50 C303.67,380.75 307.95,387.92 312.10,393.00 C316.25,398.08 322.43,402.17 324.50,404.00" fill="none" stroke="#3b4a7a" stroke-width="1.35" />
<circle cx="287.70" cy="350.70" r="2.10" fill="none" stroke="#3b4a7a" stroke-width="0.9" />
<circle cx="299.60" cy="373.60" r="2.10" fill="none" stroke="#3b4a7a" stroke-width="0.9" />
<circle cx="312.10" cy="395.00" r="2.10" fill="none" stroke="#3b4a7a" stroke-width="0.9" />
<circle cx="312.10" cy="391.80" r="2.10" fill="none" stroke="#3b4a7a" stroke-width="0.9" />
<circle cx="324.50" cy="407.40" r="2.10" fill="none" stroke="#3b4a7a" stroke-width="0.9" />
<circle cx="275.80" cy="328.60" r="2.10" fill="none" stroke="#e08a3a" stroke-width="1.0" />
<path d="M260.3,318.375 L265.3,318.375 L262.8,314.0 Z" fill="#ec9a30" stroke="#ec9a30" stroke-width="1.0" />
<path d="M273.3,325.775 L278.3,325.775 L275.8,321.4 Z" fill="#ec9a30" stroke="#ec9a30" stroke-width="1.0" />
<path d="M285.2,343.575 L290.2,343.575 L287.7,339.2 Z" fill="#ec9a30" stroke="#ec9a30" stroke-width="1.0" />
<path d="M297.1,359.575 L302.1,359.575 L299.6,355.2 Z" fill="#ec9a30" stroke="#ec9a30" stroke-width="1.0" />
<path d="M309.6,381.375 L314.6,381.375 L312.1,377.0 Z" fill="#ec9a30" stroke="#ec9a30" stroke-width="1.0" />
<path d="M322.0,403.275 L327.0,403.275 L324.5,398.9 Z" fill="#ec9a30" stroke="#ec9a30" stroke-width="1.0" />
<path d="M275.8,310.0 L278.1,312.3 L275.8,314.6 L273.5,312.3 Z" fill="none" stroke="#d62f7e" stroke-width="1.0" />
<path d="M287.7,321.59999999999997 L290.0,323.9 L287.7,326.2 L285.4,323.9 Z" fill="none" stroke="#d62f7e" stroke-width="1.0" />
<path d="M299.6,325.09999999999997 L301.90000000000003,327.4 L299.6,329.7 L297.3,327.4 Z" fill="none" stroke="#d62f7e" stroke-width="1.0" />
<path d="M299.6,345.0 L301.90000000000003,347.3 L299.6,349.6 L297.3,347.3 Z" fill="none" stroke="#d62f7e" stroke-width="1.0" />
<path d="M312.1,323.9 L314.40000000000003,326.2 L312.1,328.5 L309.8,326.2 Z" fill="none" stroke="#d62f7e" stroke-width="1.0" />
<path d="M312.1,329.09999999999997 L314.40000000000003,331.4 L312.1,333.7 L309.8,331.4 Z" fill="none" stroke="#d62f7e" stroke-width="1.0" />
<path d="M324.5,346.4 L326.8,348.7 L324.5,351.0 L322.2,348.7 Z" fill="none" stroke="#d62f7e" stroke-width="1.0" />
<path d="M324.5,348.4 L326.8,350.7 L324.5,353.0 L322.2,350.7 Z" fill="none" stroke="#d62f7e" stroke-width="1.0" />
<path d="M260.40000000000003,308.5 L265.2,308.5 L262.8,312.7 Z" fill="#9aa0b4" stroke="#9aa0b4" stroke-width="0.9" />
<path d="M273.40000000000003,316.09999999999997 L278.2,316.09999999999997 L275.8,320.29999999999995 Z" fill="#9aa0b4" stroke="#9aa0b4" stroke-width="0.9" />
<path d="M285.3,328.0 L290.09999999999997,328.0 L287.7,332.2 Z" fill="#9aa0b4" stroke="#9aa0b4" stroke-width="0.9" />
<path d="M297.20000000000005,339.9 L302.0,339.9 L299.6,344.09999999999997 Z" fill="#9aa0b4" stroke="#9aa0b4" stroke-width="0.9" />
<path d="M309.70000000000005,344.3 L314.5,344.3 L312.1,348.5 Z" fill="#9aa0b4" stroke="#9aa0b4" stroke-width="0.9" />
<path d="M322.1,362.2 L326.9,362.2 L324.5,366.4 Z" fill="#9aa0b4" stroke="#9aa0b4" stroke-width="0.9" />
<path d="M287.7,323.2 L290.0,325.5 L287.7,327.8 L285.4,325.5 Z" fill="#a0a0a8" stroke="#a0a0a8" stroke-width="0.9" />
<path d="M299.6,331.5 L301.90000000000003,333.8 L299.6,336.1 L297.3,333.8 Z" fill="#a0a0a8" stroke="#a0a0a8" stroke-width="0.9" />
<path d="M312.1,341.7 L314.40000000000003,344 L312.1,346.3 L309.8,344 Z" fill="#a0a0a8" stroke="#a0a0a8" stroke-width="0.9" />
<path d="M324.5,359.7 L326.8,362 L324.5,364.3 L322.2,362 Z" fill="#a0a0a8" stroke="#a0a0a8" stroke-width="0.9" />
<rect x="261.10" y="321.00" width="3.40" height="3.40" fill="#b8b8c0" stroke="#7a7a80" stroke-width="0.9" rx="0" />
<rect x="261.10" y="323.50" width="3.40" height="3.40" fill="#b8b8c0" stroke="#7a7a80" stroke-width="0.9" rx="0" />
<circle cx="324.50" cy="407.40" r="2.10" fill="#8a90a8" stroke="#8a90a8" stroke-width="0.6" />
<circle cx="240.20" cy="307.80" r="2.30" fill="#b08060" stroke="#a07050" stroke-width="0.6" />
<text x="356.80" y="294.34" font-size="11.0" fill="#111" stroke="#111" stroke-width="0.5" font-weight="bold">G</text>
<path d="M335.8,357.8 L343.8,357.8 L343.8,354.4 L352.8,362.3 L343.8,370.3 L343.8,366.8 L335.8,366.8 Z" fill="#9a9cab" stroke="none" stroke-width="1" />
<line x1="388.90" y1="329.70" x2="388.90" y2="409.90" stroke="#2e2e2e" stroke-width="1.3" />
<line x1="388.90" y1="306.30" x2="388.90" y2="325.60" stroke="#2e2e2e" stroke-width="1.3" />
<path d="M388.9,325.4 l-1.2,1.2" fill="none" stroke="#2e2e2e" stroke-width="1.1" />
<path d="M388.9,329.9 l-1.0,-1.0" fill="none" stroke="#2e2e2e" stroke-width="1.1" />
<line x1="388.30" y1="410.10" x2="463.80" y2="410.10" stroke="#2e2e2e" stroke-width="1.3" />
<line x1="385.90" y1="316.40" x2="388.90" y2="316.40" stroke="#2e2e2e" stroke-width="1.2" />
<text x="383.00" y="318.58" font-size="6.42" fill="#3a3a3a" stroke="#3a3a3a" stroke-width="0.2" text-anchor="end">100</text>
<line x1="385.90" y1="344.10" x2="388.90" y2="344.10" stroke="#2e2e2e" stroke-width="1.0" />
<text x="383.00" y="346.88" font-size="6.42" fill="#3a3a3a" stroke="#3a3a3a" stroke-width="0.2" text-anchor="end">10</text>
<line x1="385.90" y1="390.60" x2="388.90" y2="390.60" stroke="#2e2e2e" stroke-width="1.0" />
<text x="383.00" y="393.38" font-size="6.42" fill="#3a3a3a" stroke="#3a3a3a" stroke-width="0.2" text-anchor="end">1</text>
<line x1="387.30" y1="404.60" x2="388.90" y2="404.60" stroke="#2e2e2e" stroke-width="0.7" />
<line x1="387.30" y1="400.92" x2="388.90" y2="400.92" stroke="#2e2e2e" stroke-width="0.7" />
<line x1="387.30" y1="397.80" x2="388.90" y2="397.80" stroke="#2e2e2e" stroke-width="0.7" />
<line x1="387.30" y1="395.11" x2="388.90" y2="395.11" stroke="#2e2e2e" stroke-width="0.7" />
<line x1="387.30" y1="392.73" x2="388.90" y2="392.73" stroke="#2e2e2e" stroke-width="0.7" />
<line x1="387.30" y1="376.60" x2="388.90" y2="376.60" stroke="#2e2e2e" stroke-width="0.7" />
<line x1="387.30" y1="368.41" x2="388.90" y2="368.41" stroke="#2e2e2e" stroke-width="0.7" />
<line x1="387.30" y1="362.60" x2="388.90" y2="362.60" stroke="#2e2e2e" stroke-width="0.7" />
<line x1="387.30" y1="358.10" x2="388.90" y2="358.10" stroke="#2e2e2e" stroke-width="0.7" />
<line x1="387.30" y1="354.42" x2="388.90" y2="354.42" stroke="#2e2e2e" stroke-width="0.7" />
<line x1="387.30" y1="351.30" x2="388.90" y2="351.30" stroke="#2e2e2e" stroke-width="0.7" />
<line x1="387.30" y1="348.61" x2="388.90" y2="348.61" stroke="#2e2e2e" stroke-width="0.7" />
<line x1="387.30" y1="346.23" x2="388.90" y2="346.23" stroke="#2e2e2e" stroke-width="0.7" />
<line x1="387.30" y1="330.10" x2="388.90" y2="330.10" stroke="#2e2e2e" stroke-width="0.7" />
<line x1="394.50" y1="409.90" x2="394.50" y2="412.50" stroke="#2e2e2e" stroke-width="0.9" />
<text x="394.50" y="421.98" font-size="6.42" fill="#3a3a3a" stroke="#3a3a3a" stroke-width="0.2" text-anchor="middle">0</text>
<line x1="415.82" y1="409.90" x2="415.82" y2="412.50" stroke="#2e2e2e" stroke-width="0.9" />
<text x="415.82" y="421.98" font-size="6.42" fill="#3a3a3a" stroke="#3a3a3a" stroke-width="0.2" text-anchor="middle">20</text>
<line x1="437.14" y1="409.90" x2="437.14" y2="412.50" stroke="#2e2e2e" stroke-width="0.9" />
<text x="437.14" y="421.98" font-size="6.42" fill="#3a3a3a" stroke="#3a3a3a" stroke-width="0.2" text-anchor="middle">40</text>
<line x1="458.46" y1="409.90" x2="458.46" y2="412.50" stroke="#2e2e2e" stroke-width="0.9" />
<text x="458.46" y="421.98" font-size="6.42" fill="#3a3a3a" stroke="#3a3a3a" stroke-width="0.2" text-anchor="middle">60</text>
<text x="426.00" y="433.67" font-size="8.45" fill="#333" text-anchor="middle" font-weight="bold" textLength="56.5" lengthAdjust="spacingAndGlyphs">Hinge length (# AAs)</text>
<text transform="translate(364.0,369.0) rotate(-90)" font-size="8.4" fill="#333" font-weight="bold" textLength="23" lengthAdjust="spacingAndGlyphs">IC50<tspan font-size="4.6" dy="1.9">cloak</tspan></text>
<line x1="394.50" y1="312.00" x2="394.50" y2="353.30" stroke="#d6307a" stroke-width="1.0" />
<line x1="392.70" y1="312.00" x2="396.30" y2="312.00" stroke="#d6307a" stroke-width="1.0" />
<line x1="392.70" y1="353.30" x2="396.30" y2="353.30" stroke="#d6307a" stroke-width="1.0" />
<path d="M394.5,330.0 L397.0,332.5 L394.5,335.0 L392.0,332.5 Z" fill="#d6307a" stroke="#d6307a" stroke-width="1" />
<line x1="407.08" y1="356.00" x2="407.08" y2="366.70" stroke="#a0a4b8" stroke-width="1.0" />
<line x1="405.28" y1="356.00" x2="408.88" y2="356.00" stroke="#a0a4b8" stroke-width="1.0" />
<line x1="405.28" y1="366.70" x2="408.88" y2="366.70" stroke="#a0a4b8" stroke-width="1.0" />
<path d="M404.7788,358.775 L409.3788,358.775 L407.0788,362.8 Z" fill="#9aa0b8" stroke="#9aa0b8" stroke-width="0.9" />
<path d="M407.0788,360.3 L409.2788,362.5 L407.0788,364.7 L404.8788,362.5 Z" fill="#a8a8a8" stroke="#a8a8a8" stroke-width="0.9" />
<line x1="437.90" y1="397.20" x2="437.90" y2="403.00" stroke="#e8a030" stroke-width="1.0" />
<line x1="436.10" y1="397.20" x2="439.70" y2="397.20" stroke="#e8a030" stroke-width="1.0" />
<path d="M435.4,402.875 L440.4,402.875 L437.9,398.5 Z" fill="#eba02c" stroke="#eba02c" stroke-width="0.9" />
<line x1="460.20" y1="400.40" x2="460.20" y2="408.50" stroke="#aaa" stroke-width="1.0" />
<line x1="458.40" y1="400.40" x2="462.00" y2="400.40" stroke="#aaa" stroke-width="1.0" />
<path d="M457.8,407.0 L462.59999999999997,407.0 L460.2,402.8 Z" fill="#fff" stroke="#aaa" stroke-width="0.9" />
<text x="462.70" y="316.45" font-size="6.63" fill="#333" stroke="#333" stroke-width="0.2" text-anchor="end" textLength="57.5" lengthAdjust="spacingAndGlyphs">Spearman R = −0.97</text>
<text x="462.7" y="324.0" font-size="6.6" fill="#333" stroke="#333" stroke-width="0.2" text-anchor="end" textLength="19" lengthAdjust="spacingAndGlyphs"><tspan font-style="italic">P</tspan> &lt; .05</text>
<text x="495.30" y="319.15" font-size="6.63" fill="#3a3a3a" stroke="#3a3a3a" stroke-width="0.2" text-anchor="middle" textLength="18.5" lengthAdjust="spacingAndGlyphs">mRNA:</text>
<circle cx="478.30" cy="326.90" r="2.10" fill="none" stroke="#35606e" stroke-width="1.2" />
<path d="M478.3,334.70000000000005 L480.7,337.1 L478.3,339.5 L475.90000000000003,337.1 Z" fill="none" stroke="#d6307a" stroke-width="1.0" />
<path d="M478.3,344.90000000000003 L480.7,347.3 L478.3,349.7 L475.90000000000003,347.3 Z" fill="none" stroke="#888" stroke-width="0.8" />
<path d="M476.1,355.65000000000003 L480.5,355.65000000000003 L478.3,359.5 Z" fill="none" stroke="#8890b0" stroke-width="0.8" />
<path d="M476.0,369.82500000000005 L480.6,369.82500000000005 L478.3,365.8 Z" fill="none" stroke="#eba02c" stroke-width="1.0" />
<path d="M476.1,379.15 L480.5,379.15 L478.3,375.3 Z" fill="none" stroke="#999" stroke-width="0.8" />
<text x="483.00" y="329.23" font-size="6.85" fill="#333" stroke="#333" stroke-width="0.2" textLength="25.9" lengthAdjust="spacingAndGlyphs">No Cloak</text>
<text x="483.00" y="339.43" font-size="6.85" fill="#333" stroke="#333" stroke-width="0.2" textLength="26.3" lengthAdjust="spacingAndGlyphs">No Hinge</text>
<text x="483.00" y="349.63" font-size="6.85" fill="#333" stroke="#333" stroke-width="0.2" textLength="17.4" lengthAdjust="spacingAndGlyphs">hIgG1</text>
<text x="483.00" y="359.83" font-size="6.85" fill="#333" stroke="#333" stroke-width="0.2" textLength="17.4" lengthAdjust="spacingAndGlyphs">hIgG2</text>
<text x="483.00" y="370.33" font-size="6.85" fill="#333" stroke="#333" stroke-width="0.2" textLength="13" lengthAdjust="spacingAndGlyphs">CD8</text>
<text x="483.00" y="380.23" font-size="6.85" fill="#333" stroke="#333" stroke-width="0.2" textLength="17.6" lengthAdjust="spacingAndGlyphs">hIgG3</text>
<text x="7.50" y="456.44" font-size="11.0" fill="#111" stroke="#111" stroke-width="0.5" font-weight="bold">H</text>
<text x="20.50" y="469.85" font-size="6.63" fill="#3a3a3a" stroke="#3a3a3a" stroke-width="0.2" text-anchor="middle" textLength="12.5" lengthAdjust="spacingAndGlyphs">scFV</text>
<text x="43.50" y="469.85" font-size="6.63" fill="#3a3a3a" stroke="#3a3a3a" stroke-width="0.2" text-anchor="middle" textLength="16" lengthAdjust="spacingAndGlyphs">Hinge</text>
<text x="63.00" y="469.85" font-size="6.63" fill="#3a3a3a" stroke="#3a3a3a" stroke-width="0.2" text-anchor="middle" textLength="8.6" lengthAdjust="spacingAndGlyphs">TM</text>
<text x="82.70" y="469.85" font-size="6.63" fill="#3a3a3a" stroke="#3a3a3a" stroke-width="0.2" text-anchor="middle" textLength="9.6" lengthAdjust="spacingAndGlyphs">Cyt</text>
<text x="115.70" y="469.85" font-size="6.63" fill="#3a3a3a" stroke="#3a3a3a" stroke-width="0.2" text-anchor="middle" textLength="21" lengthAdjust="spacingAndGlyphs">Variant:</text>
<rect x="7.30" y="478.20" width="26.90" height="10.00" fill="#fff" stroke="#e4854a" stroke-width="1.0" rx="0" />
<text x="20.75" y="485.60" font-size="7.06" fill="#333" stroke="#333" stroke-width="0.2" text-anchor="middle" textLength="24.0" lengthAdjust="spacingAndGlyphs">CD300a</text>
<rect x="35.00" y="478.20" width="17.90" height="10.00" fill="#fff" stroke="#e4854a" stroke-width="1.0" rx="0" />
<text x="43.95" y="485.60" font-size="7.06" fill="#e8863a" stroke="#e8863a" stroke-width="0.2" text-anchor="middle" textLength="13.0" lengthAdjust="spacingAndGlyphs">CD8</text>
<rect x="53.80" y="478.20" width="17.70" height="10.00" fill="#fff" stroke="#5586c6" stroke-width="1.0" rx="0" />
<text x="62.65" y="485.60" font-size="7.06" fill="#333" stroke="#333" stroke-width="0.2" text-anchor="middle" textLength="13.0" lengthAdjust="spacingAndGlyphs">CD8</text>
<rect x="7.30" y="496.40" width="26.90" height="10.00" fill="#fff" stroke="#e4854a" stroke-width="1.0" rx="0" />
<text x="20.75" y="503.80" font-size="7.06" fill="#333" stroke="#333" stroke-width="0.2" text-anchor="middle" textLength="24.0" lengthAdjust="spacingAndGlyphs">CD300a</text>
<line x1="34.20" y1="501.40" x2="53.80" y2="501.40" stroke="#d6307a" stroke-width="1.0" />
<rect x="53.80" y="496.40" width="17.70" height="10.00" fill="#fff" stroke="#5586c6" stroke-width="1.0" rx="0" />
<text x="62.65" y="503.80" font-size="7.06" fill="#333" stroke="#333" stroke-width="0.2" text-anchor="middle" textLength="13.0" lengthAdjust="spacingAndGlyphs">CD8</text>
<rect x="7.30" y="514.50" width="26.90" height="10.00" fill="#fff" stroke="#e4854a" stroke-width="1.0" rx="0" />
<text x="20.75" y="521.90" font-size="7.06" fill="#333" stroke="#333" stroke-width="0.2" text-anchor="middle" textLength="24.0" lengthAdjust="spacingAndGlyphs">CD300a</text>
<line x1="34.20" y1="519.50" x2="53.80" y2="519.50" stroke="#d6307a" stroke-width="1.0" />
<rect x="53.80" y="514.50" width="17.70" height="10.00" fill="#fff" stroke="#5586c6" stroke-width="1.0" rx="0" />
<text x="62.65" y="521.90" font-size="7.06" fill="#333" stroke="#333" stroke-width="0.2" text-anchor="middle" textLength="13.0" lengthAdjust="spacingAndGlyphs">CD8</text>
<rect x="72.10" y="514.50" width="21.70" height="10.00" fill="#fff" stroke="#d6b456" stroke-width="1.0" rx="0" />
<text x="82.95" y="521.90" font-size="7.06" fill="#333" stroke="#333" stroke-width="0.2" text-anchor="middle" textLength="18.2" lengthAdjust="spacingAndGlyphs">mB7-1</text>
<text x="115.30" y="481.35" font-size="6.63" fill="#e0813e" stroke="#e0813e" stroke-width="0.2" text-anchor="middle" textLength="22.4" lengthAdjust="spacingAndGlyphs">CD300a</text>
<text x="115.90" y="489.35" font-size="6.63" fill="#e0813e" stroke="#e0813e" stroke-width="0.2" text-anchor="middle" textLength="28.6" lengthAdjust="spacingAndGlyphs">TASR (V1)</text>
<text x="115.30" y="498.95" font-size="6.63" fill="#c8c64a" stroke="#c8c64a" stroke-width="0.2" text-anchor="middle" textLength="22.4" lengthAdjust="spacingAndGlyphs">CD300a</text>
<text x="115.90" y="506.95" font-size="6.63" fill="#c8c64a" stroke="#c8c64a" stroke-width="0.2" text-anchor="middle" textLength="33.3" lengthAdjust="spacingAndGlyphs">TASR (V1.5)</text>
<text x="115.30" y="517.95" font-size="6.63" fill="#cc2f72" stroke="#cc2f72" stroke-width="0.2" text-anchor="middle" textLength="22.4" lengthAdjust="spacingAndGlyphs">CD300a</text>
<text x="115.90" y="525.55" font-size="6.63" fill="#cc2f72" stroke="#cc2f72" stroke-width="0.2" text-anchor="middle" textLength="28.6" lengthAdjust="spacingAndGlyphs">TASR (V2)</text>
<text x="115.90" y="539.95" font-size="6.63" fill="#555" stroke="#555" stroke-width="0.2" text-anchor="middle" textLength="25.7" lengthAdjust="spacingAndGlyphs">No Cloak</text>
<text x="171.90" y="468.95" font-size="6.63" fill="#3a3a3a" stroke="#3a3a3a" stroke-width="0.2" text-anchor="middle" textLength="45.8" lengthAdjust="spacingAndGlyphs">Expression Level</text>
<path d="M143.70,490.46 L144.39,490.44 L145.07,490.43 L145.76,490.41 L146.45,490.40 L147.13,490.38 L147.82,490.36 L148.51,490.34 L149.19,490.33 L149.88,490.31 L150.57,490.29 L151.25,490.27 L151.94,490.25 L152.63,490.23 L153.31,490.21 L154.00,490.19 L154.69,490.17 L155.37,490.15 L156.06,490.13 L156.75,490.10 L157.43,490.08 L158.12,490.06 L158.81,490.04 L159.49,490.01 L160.18,489.99 L160.87,489.97 L161.55,489.94 L162.24,489.92 L162.93,489.89 L163.61,489.87 L164.30,489.85 L164.99,489.82 L165.67,489.80 L166.36,489.77 L167.05,489.75 L167.73,489.72 L168.42,489.70 L169.11,489.68 L169.79,489.65 L170.48,489.63 L171.17,489.61 L171.85,489.58 L172.54,489.56 L173.23,489.54 L173.91,489.51 L174.60,489.49 L175.29,489.47 L175.97,489.45 L176.66,489.43 L177.35,489.41 L178.03,489.39 L178.72,489.37 L179.41,489.35 L180.09,489.34 L180.78,489.32 L181.47,489.30 L182.15,489.29 L182.84,489.24 L183.53,488.73 L184.21,488.10 L184.90,487.34 L185.59,486.45 L186.27,485.43 L186.96,484.28 L187.65,483.04 L188.33,481.72 L189.02,480.38 L189.71,479.05 L190.39,477.78 L191.08,476.65 L191.77,475.69 L192.45,474.95 L193.14,474.48 L193.83,474.30 L194.51,474.68 L195.20,475.95 L195.89,477.91 L196.57,480.24 L197.26,482.65 L197.95,484.87 L198.63,486.73 L199.32,488.17 L200.01,489.20 L200.69,489.88 L201.38,490.30 L202.07,490.54 L202.75,490.68 L203.44,490.74 L204.13,490.78 L204.81,490.79 L205.50,490.80 L205.5,490.8 L143.7,490.8 Z" fill="#f8c894" stroke="none" stroke-width="1" />
<path d="M143.70,490.46 L144.39,490.44 L145.07,490.43 L145.76,490.41 L146.45,490.40 L147.13,490.38 L147.82,490.36 L148.51,490.34 L149.19,490.33 L149.88,490.31 L150.57,490.29 L151.25,490.27 L151.94,490.25 L152.63,490.23 L153.31,490.21 L154.00,490.19 L154.69,490.17 L155.37,490.15 L156.06,490.13 L156.75,490.10 L157.43,490.08 L158.12,490.06 L158.81,490.04 L159.49,490.01 L160.18,489.99 L160.87,489.97 L161.55,489.94 L162.24,489.92 L162.93,489.89 L163.61,489.87 L164.30,489.85 L164.99,489.82 L165.67,489.80 L166.36,489.77 L167.05,489.75 L167.73,489.72 L168.42,489.70 L169.11,489.68 L169.79,489.65 L170.48,489.63 L171.17,489.61 L171.85,489.58 L172.54,489.56 L173.23,489.54 L173.91,489.51 L174.60,489.49 L175.29,489.47 L175.97,489.45 L176.66,489.43 L177.35,489.41 L178.03,489.39 L178.72,489.37 L179.41,489.35 L180.09,489.34 L180.78,489.32 L181.47,489.30 L182.15,489.29 L182.84,489.24 L183.53,488.73 L184.21,488.10 L184.90,487.34 L185.59,486.45 L186.27,485.43 L186.96,484.28 L187.65,483.04 L188.33,481.72 L189.02,480.38 L189.71,479.05 L190.39,477.78 L191.08,476.65 L191.77,475.69 L192.45,474.95 L193.14,474.48 L193.83,474.30 L194.51,474.68 L195.20,475.95 L195.89,477.91 L196.57,480.24 L197.26,482.65 L197.95,484.87 L198.63,486.73 L199.32,488.17 L200.01,489.20 L200.69,489.88 L201.38,490.30 L202.07,490.54 L202.75,490.68 L203.44,490.74 L204.13,490.78 L204.81,490.79 L205.50,490.80" fill="none" stroke="#d8863a" stroke-width="1.0" />
<path d="M143.70,509.03 L144.39,509.00 L145.07,508.98 L145.76,508.96 L146.45,508.94 L147.13,508.91 L147.82,508.89 L148.51,508.86 L149.19,508.83 L149.88,508.81 L150.57,508.78 L151.25,508.75 L151.94,508.72 L152.63,508.69 L153.31,508.66 L154.00,508.63 L154.69,508.60 L155.37,508.57 L156.06,508.54 L156.75,508.50 L157.43,508.47 L158.12,508.44 L158.81,508.41 L159.49,508.37 L160.18,508.34 L160.87,508.31 L161.55,508.27 L162.24,508.24 L162.93,508.21 L163.61,508.18 L164.30,508.15 L164.99,508.12 L165.67,508.09 L166.36,508.06 L167.05,508.03 L167.73,508.00 L168.42,507.63 L169.11,507.12 L169.79,506.52 L170.48,505.81 L171.17,504.99 L171.85,504.07 L172.54,503.04 L173.23,501.93 L173.91,500.75 L174.60,499.53 L175.29,498.30 L175.97,497.10 L176.66,495.98 L177.35,494.96 L178.03,494.10 L178.72,493.42 L179.41,492.96 L180.09,492.72 L180.78,492.78 L181.47,493.30 L182.15,494.26 L182.84,495.59 L183.53,497.17 L184.21,498.90 L184.90,500.64 L185.59,502.32 L186.27,503.84 L186.96,505.17 L187.65,506.27 L188.33,507.16 L189.02,507.84 L189.71,508.35 L190.39,508.71 L191.08,508.96 L191.77,509.13 L192.45,509.24 L193.14,509.31 L193.83,509.35 L194.51,509.37 L195.20,509.38 L195.89,509.39 L196.57,509.40 L197.26,509.40 L197.95,509.40 L198.63,509.40 L199.32,509.40 L200.01,509.40 L200.69,509.40 L201.38,509.40 L202.07,509.40 L202.75,509.40 L203.44,509.40 L204.13,509.40 L204.81,509.40 L205.50,509.40 L205.5,509.4 L143.7,509.4 Z" fill="#dce5a8" stroke="none" stroke-width="1" />
<path d="M143.70,509.03 L144.39,509.00 L145.07,508.98 L145.76,508.96 L146.45,508.94 L147.13,508.91 L147.82,508.89 L148.51,508.86 L149.19,508.83 L149.88,508.81 L150.57,508.78 L151.25,508.75 L151.94,508.72 L152.63,508.69 L153.31,508.66 L154.00,508.63 L154.69,508.60 L155.37,508.57 L156.06,508.54 L156.75,508.50 L157.43,508.47 L158.12,508.44 L158.81,508.41 L159.49,508.37 L160.18,508.34 L160.87,508.31 L161.55,508.27 L162.24,508.24 L162.93,508.21 L163.61,508.18 L164.30,508.15 L164.99,508.12 L165.67,508.09 L166.36,508.06 L167.05,508.03 L167.73,508.00 L168.42,507.63 L169.11,507.12 L169.79,506.52 L170.48,505.81 L171.17,504.99 L171.85,504.07 L172.54,503.04 L173.23,501.93 L173.91,500.75 L174.60,499.53 L175.29,498.30 L175.97,497.10 L176.66,495.98 L177.35,494.96 L178.03,494.10 L178.72,493.42 L179.41,492.96 L180.09,492.72 L180.78,492.78 L181.47,493.30 L182.15,494.26 L182.84,495.59 L183.53,497.17 L184.21,498.90 L184.90,500.64 L185.59,502.32 L186.27,503.84 L186.96,505.17 L187.65,506.27 L188.33,507.16 L189.02,507.84 L189.71,508.35 L190.39,508.71 L191.08,508.96 L191.77,509.13 L192.45,509.24 L193.14,509.31 L193.83,509.35 L194.51,509.37 L195.20,509.38 L195.89,509.39 L196.57,509.40 L197.26,509.40 L197.95,509.40 L198.63,509.40 L199.32,509.40 L200.01,509.40 L200.69,509.40 L201.38,509.40 L202.07,509.40 L202.75,509.40 L203.44,509.40 L204.13,509.40 L204.81,509.40 L205.50,509.40" fill="none" stroke="#9cb03c" stroke-width="1.0" />
<path d="M143.70,528.04 L144.39,528.03 L145.07,528.01 L145.76,527.99 L146.45,527.98 L147.13,527.96 L147.82,527.94 L148.51,527.92 L149.19,527.91 L149.88,527.89 L150.57,527.87 L151.25,527.85 L151.94,527.83 L152.63,527.81 L153.31,527.79 L154.00,527.77 L154.69,527.74 L155.37,527.72 L156.06,527.70 L156.75,527.68 L157.43,527.66 L158.12,527.63 L158.81,527.61 L159.49,527.59 L160.18,527.56 L160.87,527.54 L161.55,527.52 L162.24,527.49 L162.93,527.47 L163.61,527.44 L164.30,527.42 L164.99,527.40 L165.67,527.37 L166.36,527.35 L167.05,527.32 L167.73,527.30 L168.42,527.28 L169.11,527.25 L169.79,527.23 L170.48,527.21 L171.17,527.18 L171.85,527.16 L172.54,527.14 L173.23,527.12 L173.91,527.09 L174.60,527.07 L175.29,527.05 L175.97,527.03 L176.66,527.01 L177.35,526.99 L178.03,526.97 L178.72,526.96 L179.41,526.94 L180.09,526.92 L180.78,526.91 L181.47,526.89 L182.15,526.70 L182.84,526.16 L183.53,525.50 L184.21,524.70 L184.90,523.77 L185.59,522.72 L186.27,521.55 L186.96,520.29 L187.65,518.96 L188.33,517.63 L189.02,516.32 L189.71,515.10 L190.39,514.01 L191.08,513.13 L191.77,512.47 L192.45,512.09 L193.14,512.02 L193.83,512.69 L194.51,514.19 L195.20,516.28 L195.89,518.66 L196.57,521.02 L197.26,523.12 L197.95,524.85 L198.63,526.14 L199.32,527.05 L200.01,527.64 L200.69,527.99 L201.38,528.20 L202.07,528.30 L202.75,528.36 L203.44,528.38 L204.13,528.39 L204.81,528.40 L205.50,528.40 L205.5,528.4 L143.7,528.4 Z" fill="#f2a6cb" stroke="none" stroke-width="1" />
<path d="M143.70,528.04 L144.39,528.03 L145.07,528.01 L145.76,527.99 L146.45,527.98 L147.13,527.96 L147.82,527.94 L148.51,527.92 L149.19,527.91 L149.88,527.89 L150.57,527.87 L151.25,527.85 L151.94,527.83 L152.63,527.81 L153.31,527.79 L154.00,527.77 L154.69,527.74 L155.37,527.72 L156.06,527.70 L156.75,527.68 L157.43,527.66 L158.12,527.63 L158.81,527.61 L159.49,527.59 L160.18,527.56 L160.87,527.54 L161.55,527.52 L162.24,527.49 L162.93,527.47 L163.61,527.44 L164.30,527.42 L164.99,527.40 L165.67,527.37 L166.36,527.35 L167.05,527.32 L167.73,527.30 L168.42,527.28 L169.11,527.25 L169.79,527.23 L170.48,527.21 L171.17,527.18 L171.85,527.16 L172.54,527.14 L173.23,527.12 L173.91,527.09 L174.60,527.07 L175.29,527.05 L175.97,527.03 L176.66,527.01 L177.35,526.99 L178.03,526.97 L178.72,526.96 L179.41,526.94 L180.09,526.92 L180.78,526.91 L181.47,526.89 L182.15,526.70 L182.84,526.16 L183.53,525.50 L184.21,524.70 L184.90,523.77 L185.59,522.72 L186.27,521.55 L186.96,520.29 L187.65,518.96 L188.33,517.63 L189.02,516.32 L189.71,515.10 L190.39,514.01 L191.08,513.13 L191.77,512.47 L192.45,512.09 L193.14,512.02 L193.83,512.69 L194.51,514.19 L195.20,516.28 L195.89,518.66 L196.57,521.02 L197.26,523.12 L197.95,524.85 L198.63,526.14 L199.32,527.05 L200.01,527.64 L200.69,527.99 L201.38,528.20 L202.07,528.30 L202.75,528.36 L203.44,528.38 L204.13,528.39 L204.81,528.40 L205.50,528.40" fill="none" stroke="#b8285e" stroke-width="1.0" />
<path d="M143.70,545.67 L144.39,545.65 L145.07,545.60 L145.76,545.52 L146.45,545.38 L147.13,545.16 L147.82,544.82 L148.51,544.33 L149.19,543.63 L149.88,542.70 L150.57,541.51 L151.25,540.07 L151.94,538.41 L152.63,536.61 L153.31,534.78 L154.00,533.08 L154.69,531.64 L155.37,530.63 L156.06,530.14 L156.75,530.25 L157.43,531.02 L158.12,532.36 L158.81,534.11 L159.49,536.07 L160.18,538.04 L160.87,539.88 L161.55,541.47 L162.24,542.76 L162.93,543.74 L163.61,544.45 L164.30,544.94 L164.99,545.26 L165.67,545.45 L166.36,545.57 L167.05,545.63 L167.73,545.67 L168.42,545.68 L169.11,545.69 L169.79,545.70 L170.48,545.70 L171.17,545.70 L171.85,545.70 L172.54,545.70 L173.23,545.70 L173.91,545.70 L174.60,545.70 L175.29,545.70 L175.97,545.70 L176.66,545.70 L177.35,545.70 L178.03,545.70 L178.72,545.70 L179.41,545.70 L180.09,545.70 L180.78,545.70 L181.47,545.70 L182.15,545.70 L182.84,545.70 L183.53,545.70 L184.21,545.70 L184.90,545.70 L185.59,545.70 L186.27,545.70 L186.96,545.70 L187.65,545.70 L188.33,545.70 L189.02,545.70 L189.71,545.70 L190.39,545.70 L191.08,545.70 L191.77,545.70 L192.45,545.70 L193.14,545.70 L193.83,545.70 L194.51,545.70 L195.20,545.70 L195.89,545.70 L196.57,545.70 L197.26,545.70 L197.95,545.70 L198.63,545.70 L199.32,545.70 L200.01,545.70 L200.69,545.70 L201.38,545.70 L202.07,545.70 L202.75,545.70 L203.44,545.70 L204.13,545.70 L204.81,545.70 L205.50,545.70 L205.5,545.7 L143.7,545.7 Z" fill="#7d8190" stroke="none" stroke-width="1" />
<path d="M143.70,545.67 L144.39,545.65 L145.07,545.60 L145.76,545.52 L146.45,545.38 L147.13,545.16 L147.82,544.82 L148.51,544.33 L149.19,543.63 L149.88,542.70 L150.57,541.51 L151.25,540.07 L151.94,538.41 L152.63,536.61 L153.31,534.78 L154.00,533.08 L154.69,531.64 L155.37,530.63 L156.06,530.14 L156.75,530.25 L157.43,531.02 L158.12,532.36 L158.81,534.11 L159.49,536.07 L160.18,538.04 L160.87,539.88 L161.55,541.47 L162.24,542.76 L162.93,543.74 L163.61,544.45 L164.30,544.94 L164.99,545.26 L165.67,545.45 L166.36,545.57 L167.05,545.63 L167.73,545.67 L168.42,545.68 L169.11,545.69 L169.79,545.70 L170.48,545.70 L171.17,545.70 L171.85,545.70 L172.54,545.70 L173.23,545.70 L173.91,545.70 L174.60,545.70 L175.29,545.70 L175.97,545.70 L176.66,545.70 L177.35,545.70 L178.03,545.70 L178.72,545.70 L179.41,545.70 L180.09,545.70 L180.78,545.70 L181.47,545.70 L182.15,545.70 L182.84,545.70 L183.53,545.70 L184.21,545.70 L184.90,545.70 L185.59,545.70 L186.27,545.70 L186.96,545.70 L187.65,545.70 L188.33,545.70 L189.02,545.70 L189.71,545.70 L190.39,545.70 L191.08,545.70 L191.77,545.70 L192.45,545.70 L193.14,545.70 L193.83,545.70 L194.51,545.70 L195.20,545.70 L195.89,545.70 L196.57,545.70 L197.26,545.70 L197.95,545.70 L198.63,545.70 L199.32,545.70 L200.01,545.70 L200.69,545.70 L201.38,545.70 L202.07,545.70 L202.75,545.70 L203.44,545.70 L204.13,545.70 L204.81,545.70 L205.50,545.70" fill="none" stroke="#30323c" stroke-width="1.0" />
<rect x="143.20" y="472.30" width="62.80" height="73.40" fill="none" stroke="#222" stroke-width="1.1" rx="0" />
<line x1="146.00" y1="545.70" x2="146.00" y2="547.30" stroke="#222" stroke-width="0.6" />
<line x1="147.50" y1="545.70" x2="147.50" y2="547.30" stroke="#222" stroke-width="0.6" />
<line x1="149.40" y1="545.70" x2="149.40" y2="547.30" stroke="#222" stroke-width="0.6" />
<line x1="151.00" y1="545.70" x2="151.00" y2="547.30" stroke="#222" stroke-width="0.6" />
<line x1="153.00" y1="545.70" x2="153.00" y2="547.30" stroke="#222" stroke-width="0.6" />
<line x1="156.00" y1="545.70" x2="156.00" y2="547.30" stroke="#222" stroke-width="0.6" />
<line x1="160.00" y1="545.70" x2="160.00" y2="547.30" stroke="#222" stroke-width="0.6" />
<line x1="164.00" y1="545.70" x2="164.00" y2="547.30" stroke="#222" stroke-width="0.6" />
<line x1="168.00" y1="545.70" x2="168.00" y2="547.30" stroke="#222" stroke-width="0.6" />
<line x1="171.50" y1="545.70" x2="171.50" y2="547.30" stroke="#222" stroke-width="0.6" />
<line x1="175.60" y1="545.70" x2="175.60" y2="547.30" stroke="#222" stroke-width="0.6" />
<line x1="181.00" y1="545.70" x2="181.00" y2="547.30" stroke="#222" stroke-width="0.6" />
<line x1="185.00" y1="545.70" x2="185.00" y2="547.30" stroke="#222" stroke-width="0.6" />
<line x1="188.00" y1="545.70" x2="188.00" y2="547.30" stroke="#222" stroke-width="0.6" />
<line x1="190.50" y1="545.70" x2="190.50" y2="547.30" stroke="#222" stroke-width="0.6" />
<line x1="193.50" y1="545.70" x2="193.50" y2="547.30" stroke="#222" stroke-width="0.6" />
<line x1="200.00" y1="545.70" x2="200.00" y2="547.30" stroke="#222" stroke-width="0.6" />
<line x1="149.40" y1="545.70" x2="149.40" y2="548.30" stroke="#222" stroke-width="0.9" />
<line x1="175.60" y1="545.70" x2="175.60" y2="548.30" stroke="#222" stroke-width="0.9" />
<line x1="193.50" y1="545.70" x2="193.50" y2="548.30" stroke="#222" stroke-width="0.9" />
<text x="149.40" y="556.68" font-size="6.42" fill="#3a3a3a" stroke="#3a3a3a" stroke-width="0.2" text-anchor="middle">0</text>
<text x="175.60" y="556.88" font-size="6.42" fill="#3a3a3a" stroke="#3a3a3a" stroke-width="0.2" text-anchor="middle">10<tspan font-size="4" dy="-2.5">4</tspan></text>
<text x="193.50" y="556.88" font-size="6.42" fill="#3a3a3a" stroke="#3a3a3a" stroke-width="0.2" text-anchor="middle">10<tspan font-size="4" dy="-2.5">5</tspan></text>
<text x="174.40" y="569.87" font-size="8.45" fill="#333" text-anchor="middle" font-weight="bold" textLength="46.7" lengthAdjust="spacingAndGlyphs">PE CD300a ligand</text>
<text x="215.90" y="456.59" font-size="11.0" fill="#111" stroke="#111" stroke-width="0.5" font-weight="bold">I</text>
<line x1="246.60" y1="471.00" x2="246.60" y2="546.00" stroke="#2e2e2e" stroke-width="1.3" />
<line x1="246.00" y1="546.00" x2="323.90" y2="546.00" stroke="#2e2e2e" stroke-width="1.3" />
<line x1="243.60" y1="472.50" x2="246.60" y2="472.50" stroke="#2e2e2e" stroke-width="1.0" />
<text x="240.60" y="474.68" font-size="6.42" fill="#3a3a3a" stroke="#3a3a3a" stroke-width="0.2" text-anchor="end">100</text>
<line x1="243.60" y1="490.88" x2="246.60" y2="490.88" stroke="#2e2e2e" stroke-width="1.0" />
<text x="240.60" y="493.06" font-size="6.42" fill="#3a3a3a" stroke="#3a3a3a" stroke-width="0.2" text-anchor="end">75</text>
<line x1="243.60" y1="509.25" x2="246.60" y2="509.25" stroke="#2e2e2e" stroke-width="1.0" />
<text x="240.60" y="511.43" font-size="6.42" fill="#3a3a3a" stroke="#3a3a3a" stroke-width="0.2" text-anchor="end">50</text>
<line x1="243.60" y1="527.62" x2="246.60" y2="527.62" stroke="#2e2e2e" stroke-width="1.0" />
<text x="240.60" y="529.81" font-size="6.42" fill="#3a3a3a" stroke="#3a3a3a" stroke-width="0.2" text-anchor="end">25</text>
<line x1="243.60" y1="546.00" x2="246.60" y2="546.00" stroke="#2e2e2e" stroke-width="1.0" />
<text x="240.60" y="548.18" font-size="6.42" fill="#3a3a3a" stroke="#3a3a3a" stroke-width="0.2" text-anchor="end">0</text>
<line x1="281.50" y1="546.00" x2="281.50" y2="548.60" stroke="#2e2e2e" stroke-width="0.9" />
<line x1="308.30" y1="546.00" x2="308.30" y2="548.60" stroke="#2e2e2e" stroke-width="0.9" />
<line x1="262.77" y1="546.00" x2="262.77" y2="547.50" stroke="#2e2e2e" stroke-width="0.7" />
<line x1="267.49" y1="546.00" x2="267.49" y2="547.50" stroke="#2e2e2e" stroke-width="0.7" />
<line x1="270.84" y1="546.00" x2="270.84" y2="547.50" stroke="#2e2e2e" stroke-width="0.7" />
<line x1="273.43" y1="546.00" x2="273.43" y2="547.50" stroke="#2e2e2e" stroke-width="0.7" />
<line x1="275.55" y1="546.00" x2="275.55" y2="547.50" stroke="#2e2e2e" stroke-width="0.7" />
<line x1="277.35" y1="546.00" x2="277.35" y2="547.50" stroke="#2e2e2e" stroke-width="0.7" />
<line x1="278.90" y1="546.00" x2="278.90" y2="547.50" stroke="#2e2e2e" stroke-width="0.7" />
<line x1="280.27" y1="546.00" x2="280.27" y2="547.50" stroke="#2e2e2e" stroke-width="0.7" />
<line x1="289.57" y1="546.00" x2="289.57" y2="547.50" stroke="#2e2e2e" stroke-width="0.7" />
<line x1="294.29" y1="546.00" x2="294.29" y2="547.50" stroke="#2e2e2e" stroke-width="0.7" />
<line x1="297.64" y1="546.00" x2="297.64" y2="547.50" stroke="#2e2e2e" stroke-width="0.7" />
<line x1="300.23" y1="546.00" x2="300.23" y2="547.50" stroke="#2e2e2e" stroke-width="0.7" />
<line x1="302.35" y1="546.00" x2="302.35" y2="547.50" stroke="#2e2e2e" stroke-width="0.7" />
<line x1="304.15" y1="546.00" x2="304.15" y2="547.50" stroke="#2e2e2e" stroke-width="0.7" />
<line x1="305.70" y1="546.00" x2="305.70" y2="547.50" stroke="#2e2e2e" stroke-width="0.7" />
<line x1="307.07" y1="546.00" x2="307.07" y2="547.50" stroke="#2e2e2e" stroke-width="0.7" />
<line x1="316.37" y1="546.00" x2="316.37" y2="547.50" stroke="#2e2e2e" stroke-width="0.7" />
<line x1="321.09" y1="546.00" x2="321.09" y2="547.50" stroke="#2e2e2e" stroke-width="0.7" />
<text x="246.60" y="557.68" font-size="6.42" fill="#3a3a3a" stroke="#3a3a3a" stroke-width="0.2" text-anchor="middle">0</text>
<text x="281.50" y="557.68" font-size="6.42" fill="#3a3a3a" stroke="#3a3a3a" stroke-width="0.2" text-anchor="middle">0.1</text>
<text x="308.30" y="557.68" font-size="6.42" fill="#3a3a3a" stroke="#3a3a3a" stroke-width="0.2" text-anchor="middle">1</text>
<text x="285.20" y="570.07" font-size="8.45" fill="#333" text-anchor="middle" font-weight="bold" textLength="22" lengthAdjust="spacingAndGlyphs">E:T ratio</text>
<text x="219.90" y="511.15" font-size="7.81" fill="#333" text-anchor="middle" font-weight="bold" textLength="47.5" lengthAdjust="spacingAndGlyphs" transform="rotate(-90 219.90 508.50)">T cell survival (%)</text>
<path d="M246.60,472.50 C249.17,472.62 256.70,472.57 262.00,473.20 C267.30,473.83 274.33,475.40 278.40,476.30 C282.47,477.20 283.72,477.65 286.40,478.60 C289.08,479.55 291.80,480.77 294.50,482.00 C297.20,483.23 299.87,484.75 302.60,486.00 C305.33,487.25 308.22,488.50 310.90,489.50 C313.58,490.50 317.40,491.58 318.70,492.00" fill="none" stroke="#d62f7e" stroke-width="1.35" />
<path d="M246.60,472.50 C249.17,473.17 256.70,474.25 262.00,476.50 C267.30,478.75 274.33,483.08 278.40,486.00 C282.47,488.92 283.72,491.33 286.40,494.00 C289.08,496.67 291.80,499.33 294.50,502.00 C297.20,504.67 299.87,507.42 302.60,510.00 C305.33,512.58 308.22,515.33 310.90,517.50 C313.58,519.67 317.40,522.08 318.70,523.00" fill="none" stroke="#ee8a2a" stroke-width="1.35" />
<path d="M246.60,472.50 C249.17,473.50 256.70,475.33 262.00,478.50 C267.30,481.67 274.33,487.75 278.40,491.50 C282.47,495.25 283.72,497.75 286.40,501.00 C289.08,504.25 291.80,507.67 294.50,511.00 C297.20,514.33 299.87,517.83 302.60,521.00 C305.33,524.17 308.22,527.33 310.90,530.00 C313.58,532.67 317.40,535.83 318.70,537.00" fill="none" stroke="#c2c434" stroke-width="1.35" />
<path d="M246.60,472.50 C249.17,473.67 256.70,475.42 262.00,479.50 C267.30,483.58 274.33,491.92 278.40,497.00 C282.47,502.08 283.72,505.33 286.40,510.00 C289.08,514.67 291.80,520.50 294.50,525.00 C297.20,529.50 299.87,534.00 302.60,537.00 C305.33,540.00 308.22,541.67 310.90,543.00 C313.58,544.33 317.40,544.67 318.70,545.00" fill="none" stroke="#3b4f7c" stroke-width="1.35" />
<path d="M275.9,480.075 L280.9,480.075 L278.4,475.7 Z" fill="none" stroke="#d62f7e" stroke-width="1.0" />
<path d="M283.9,476.575 L288.9,476.575 L286.4,472.2 Z" fill="none" stroke="#d62f7e" stroke-width="1.0" />
<path d="M292.0,483.975 L297.0,483.975 L294.5,479.6 Z" fill="none" stroke="#d62f7e" stroke-width="1.0" />
<path d="M300.1,489.175 L305.1,489.175 L302.6,484.8 Z" fill="none" stroke="#d62f7e" stroke-width="1.0" />
<path d="M308.4,491.675 L313.4,491.675 L310.9,487.3 Z" fill="none" stroke="#d62f7e" stroke-width="1.0" />
<path d="M316.2,493.875 L321.2,493.875 L318.7,489.5 Z" fill="none" stroke="#d62f7e" stroke-width="1.0" />
<path d="M275.9,484.125 L280.9,484.125 L278.4,488.5 Z" fill="none" stroke="#ee8a2a" stroke-width="1.0" />
<path d="M283.9,494.125 L288.9,494.125 L286.4,498.5 Z" fill="none" stroke="#ee8a2a" stroke-width="1.0" />
<path d="M292.0,501.025 L297.0,501.025 L294.5,505.4 Z" fill="none" stroke="#ee8a2a" stroke-width="1.0" />
<path d="M300.1,508.625 L305.1,508.625 L302.6,513.0 Z" fill="none" stroke="#ee8a2a" stroke-width="1.0" />
<path d="M308.4,516.925 L313.4,516.925 L310.9,521.3 Z" fill="none" stroke="#ee8a2a" stroke-width="1.0" />
<path d="M316.2,521.825 L321.2,521.825 L318.7,526.2 Z" fill="none" stroke="#ee8a2a" stroke-width="1.0" />
<rect x="276.40" y="492.60" width="4.00" height="4.00" fill="none" stroke="#c2c434" stroke-width="1.0" rx="0" />
<rect x="284.40" y="495.20" width="4.00" height="4.00" fill="none" stroke="#c2c434" stroke-width="1.0" rx="0" />
<rect x="292.50" y="509.90" width="4.00" height="4.00" fill="none" stroke="#c2c434" stroke-width="1.0" rx="0" />
<rect x="300.60" y="519.40" width="4.00" height="4.00" fill="none" stroke="#c2c434" stroke-width="1.0" rx="0" />
<rect x="308.90" y="530.70" width="4.00" height="4.00" fill="none" stroke="#c2c434" stroke-width="1.0" rx="0" />
<rect x="316.70" y="536.20" width="4.00" height="4.00" fill="none" stroke="#c2c434" stroke-width="1.0" rx="0" />
<circle cx="278.40" cy="498.40" r="2.20" fill="none" stroke="#3b4f7c" stroke-width="1.0" />
<circle cx="286.40" cy="508.40" r="2.20" fill="none" stroke="#3b4f7c" stroke-width="1.0" />
<circle cx="294.50" cy="526.10" r="2.20" fill="none" stroke="#3b4f7c" stroke-width="1.0" />
<circle cx="302.60" cy="537.50" r="2.20" fill="none" stroke="#3b4f7c" stroke-width="1.0" />
<circle cx="310.90" cy="544.40" r="2.20" fill="none" stroke="#3b4f7c" stroke-width="1.0" />
<circle cx="318.70" cy="545.10" r="2.20" fill="none" stroke="#3b4f7c" stroke-width="1.0" />
<circle cx="246.60" cy="472.50" r="2.20" fill="#b06a50" stroke="#a05040" stroke-width="0.6" />
<text x="349.30" y="473.95" font-size="6.63" fill="#3a3a3a" stroke="#3a3a3a" stroke-width="0.2" text-anchor="middle" textLength="19.5" lengthAdjust="spacingAndGlyphs">mRNA:</text>
<path d="M329.6,488.375 L334.6,488.375 L332.1,484.0 Z" fill="none" stroke="#d62f7e" stroke-width="1.0" />
<path d="M329.6,502.525 L334.6,502.525 L332.1,506.9 Z" fill="none" stroke="#ee8a2a" stroke-width="1.0" />
<rect x="330.00" y="520.90" width="4.20" height="4.20" fill="none" stroke="#c2c434" stroke-width="1.0" rx="0" />
<circle cx="332.10" cy="540.60" r="2.20" fill="none" stroke="#3b4f7c" stroke-width="1.0" />
<text x="338.30" y="485.05" font-size="6.63" fill="#333" stroke="#333" stroke-width="0.2" textLength="22.4" lengthAdjust="spacingAndGlyphs">CD300a</text>
<text x="338.30" y="492.45" font-size="6.63" fill="#333" stroke="#333" stroke-width="0.2" textLength="28.6" lengthAdjust="spacingAndGlyphs">TASR (V2)</text>
<text x="338.30" y="503.65" font-size="6.63" fill="#333" stroke="#333" stroke-width="0.2" textLength="22.4" lengthAdjust="spacingAndGlyphs">CD300a</text>
<text x="338.30" y="511.05" font-size="6.63" fill="#333" stroke="#333" stroke-width="0.2" textLength="28.6" lengthAdjust="spacingAndGlyphs">TASR (V1)</text>
<text x="338.30" y="521.25" font-size="6.63" fill="#333" stroke="#333" stroke-width="0.2" textLength="22.4" lengthAdjust="spacingAndGlyphs">CD300a</text>
<text x="338.30" y="528.95" font-size="6.63" fill="#333" stroke="#333" stroke-width="0.2" textLength="33.3" lengthAdjust="spacingAndGlyphs">TASR (V1.5)</text>
<text x="338.30" y="539.15" font-size="6.63" fill="#333" stroke="#333" stroke-width="0.2" textLength="25.7" lengthAdjust="spacingAndGlyphs">No Cloak</text>
<text x="338.30" y="546.55" font-size="6.63" fill="#333" stroke="#333" stroke-width="0.2" textLength="17" lengthAdjust="spacingAndGlyphs">(GFP)</text>
<text x="381.60" y="455.64" font-size="11.0" fill="#111" stroke="#111" stroke-width="0.5" font-weight="bold">J</text>
<ellipse cx="389.60" cy="489.40" rx="5.75" ry="2.9" fill="#f2b488" stroke="#3a2e2a" stroke-width="0.9"/>
<ellipse cx="401.55" cy="489.40" rx="5.75" ry="2.9" fill="#f2b488" stroke="#3a2e2a" stroke-width="0.9"/>
<ellipse cx="413.50" cy="489.40" rx="5.75" ry="2.9" fill="#f2b488" stroke="#3a2e2a" stroke-width="0.9"/>
<ellipse cx="425.45" cy="489.40" rx="5.75" ry="2.9" fill="#f2b488" stroke="#3a2e2a" stroke-width="0.9"/>
<ellipse cx="437.40" cy="489.40" rx="5.75" ry="2.9" fill="#f2b488" stroke="#3a2e2a" stroke-width="0.9"/>
<ellipse cx="449.35" cy="489.40" rx="5.75" ry="2.9" fill="#f2b488" stroke="#3a2e2a" stroke-width="0.9"/>
<ellipse cx="461.30" cy="489.40" rx="5.75" ry="2.9" fill="#f2b488" stroke="#3a2e2a" stroke-width="0.9"/>
<ellipse cx="473.25" cy="489.40" rx="5.75" ry="2.9" fill="#f2b488" stroke="#3a2e2a" stroke-width="0.9"/>
<ellipse cx="485.20" cy="489.40" rx="5.75" ry="2.9" fill="#f2b488" stroke="#3a2e2a" stroke-width="0.9"/>
<ellipse cx="389.60" cy="495.60" rx="5.75" ry="2.9" fill="#bccbec" stroke="#2e3648" stroke-width="0.9"/>
<ellipse cx="401.55" cy="495.60" rx="5.75" ry="2.9" fill="#bccbec" stroke="#2e3648" stroke-width="0.9"/>
<ellipse cx="413.50" cy="495.60" rx="5.75" ry="2.9" fill="#bccbec" stroke="#2e3648" stroke-width="0.9"/>
<ellipse cx="425.45" cy="495.60" rx="5.75" ry="2.9" fill="#bccbec" stroke="#2e3648" stroke-width="0.9"/>
<ellipse cx="437.40" cy="495.60" rx="5.75" ry="2.9" fill="#bccbec" stroke="#2e3648" stroke-width="0.9"/>
<ellipse cx="449.35" cy="495.60" rx="5.75" ry="2.9" fill="#bccbec" stroke="#2e3648" stroke-width="0.9"/>
<ellipse cx="461.30" cy="495.60" rx="5.75" ry="2.9" fill="#bccbec" stroke="#2e3648" stroke-width="0.9"/>
<ellipse cx="473.25" cy="495.60" rx="5.75" ry="2.9" fill="#bccbec" stroke="#2e3648" stroke-width="0.9"/>
<ellipse cx="485.20" cy="495.60" rx="5.75" ry="2.9" fill="#bccbec" stroke="#2e3648" stroke-width="0.9"/>
<ellipse cx="389.60" cy="539.10" rx="5.75" ry="2.9" fill="#bccbec" stroke="#2e3648" stroke-width="0.9"/>
<ellipse cx="401.55" cy="539.10" rx="5.75" ry="2.9" fill="#bccbec" stroke="#2e3648" stroke-width="0.9"/>
<ellipse cx="425.45" cy="539.10" rx="5.75" ry="2.9" fill="#bccbec" stroke="#2e3648" stroke-width="0.9"/>
<ellipse cx="437.40" cy="539.10" rx="5.75" ry="2.9" fill="#bccbec" stroke="#2e3648" stroke-width="0.9"/>
<ellipse cx="449.35" cy="539.10" rx="5.75" ry="2.9" fill="#bccbec" stroke="#2e3648" stroke-width="0.9"/>
<ellipse cx="461.30" cy="539.10" rx="5.75" ry="2.9" fill="#bccbec" stroke="#2e3648" stroke-width="0.9"/>
<ellipse cx="473.25" cy="539.10" rx="5.75" ry="2.9" fill="#bccbec" stroke="#2e3648" stroke-width="0.9"/>
<ellipse cx="485.20" cy="539.10" rx="5.75" ry="2.9" fill="#bccbec" stroke="#2e3648" stroke-width="0.9"/>
<ellipse cx="389.60" cy="545.30" rx="5.75" ry="2.9" fill="#f2b488" stroke="#3a2e2a" stroke-width="0.9"/>
<ellipse cx="401.55" cy="545.30" rx="5.75" ry="2.9" fill="#f2b488" stroke="#3a2e2a" stroke-width="0.9"/>
<ellipse cx="413.50" cy="545.30" rx="5.75" ry="2.9" fill="#f2b488" stroke="#3a2e2a" stroke-width="0.9"/>
<ellipse cx="425.45" cy="545.30" rx="5.75" ry="2.9" fill="#f2b488" stroke="#3a2e2a" stroke-width="0.9"/>
<ellipse cx="437.40" cy="545.30" rx="5.75" ry="2.9" fill="#f2b488" stroke="#3a2e2a" stroke-width="0.9"/>
<ellipse cx="449.35" cy="545.30" rx="5.75" ry="2.9" fill="#f2b488" stroke="#3a2e2a" stroke-width="0.9"/>
<ellipse cx="461.30" cy="545.30" rx="5.75" ry="2.9" fill="#f2b488" stroke="#3a2e2a" stroke-width="0.9"/>
<ellipse cx="473.25" cy="545.30" rx="5.75" ry="2.9" fill="#f2b488" stroke="#3a2e2a" stroke-width="0.9"/>
<ellipse cx="485.20" cy="545.30" rx="5.75" ry="2.9" fill="#f2b488" stroke="#3a2e2a" stroke-width="0.9"/>
<line x1="414.10" y1="468.00" x2="414.10" y2="510.00" stroke="#111" stroke-width="1.7" />
<rect x="410.90" y="467.30" width="6.30" height="3.80" fill="#d0203a" stroke="#5a1010" stroke-width="0.6" rx="0.8" />
<rect x="410.90" y="473.40" width="6.30" height="3.80" fill="#d0203a" stroke="#5a1010" stroke-width="0.6" rx="0.8" />
<rect x="410.90" y="479.50" width="6.30" height="3.80" fill="#d0203a" stroke="#5a1010" stroke-width="0.6" rx="0.8" />
<path d="M407.8,523.4 C408.6,519 408.6,509.5 414.2,508.6 C419.8,509.5 419.8,519 420.6,523.4 Q414.2,520.6 407.8,523.4 Z" fill="#3a5eb0" stroke="#1c2c58" stroke-width="0.7" />
<ellipse cx="414.4" cy="532.9" rx="5.4" ry="8.6" fill="#f3b185" stroke="#3a2a20" stroke-width="0.8"/>
<line x1="454.80" y1="468.00" x2="454.80" y2="510.00" stroke="#111" stroke-width="1.7" />
<rect x="451.60" y="467.30" width="6.30" height="3.80" fill="#d0203a" stroke="#5a1010" stroke-width="0.6" rx="0.8" />
<rect x="451.60" y="473.40" width="6.30" height="3.80" fill="#d0203a" stroke="#5a1010" stroke-width="0.6" rx="0.8" />
<rect x="451.60" y="479.50" width="6.30" height="3.80" fill="#d0203a" stroke="#5a1010" stroke-width="0.6" rx="0.8" />
<path d="M448.5,523.4 C449.3,519 449.3,509.5 454.9,508.6 C460.5,509.5 460.5,519 461.3,523.4 Q454.9,520.6 448.5,523.4 Z" fill="#3a5eb0" stroke="#1c2c58" stroke-width="0.7" />
<rect x="448.90" y="518.70" width="5.80" height="13.00" fill="#d81c78" stroke="#5a0a30" stroke-width="0.6" rx="0.8" />
<rect x="455.20" y="518.70" width="5.80" height="13.00" fill="#d81c78" stroke="#5a0a30" stroke-width="0.6" rx="0.8" />
<rect x="449.00" y="531.70" width="5.00" height="18.60" fill="#2f78c0" stroke="#1c3f6a" stroke-width="0.6" rx="0" />
<rect x="449.00" y="550.30" width="5.00" height="12.20" fill="#c69d2a" stroke="#5a4410" stroke-width="0.6" rx="0.8" />
<path d="M427.3,507.5 L435.5,507.5 L435.5,504.8 L443.4,510.6 L435.5,516.4 L435.5,513.7 L427.3,513.7 Z" fill="#a4a6b4" stroke="none" stroke-width="1" />
<g transform="translate(422.5,474.2) rotate(-45)"><path d="M-4.4,-2.0 L0.6,-2.0 L0.6,-4.0 L4.8,0 L0.6,4.0 L0.6,2.0 L-4.4,2.0 Z" fill="#b0b2b8" stroke="#333" stroke-width="0.7"/></g>
<g transform="translate(447,474.2) rotate(-135)"><path d="M-4.4,-2.0 L0.6,-2.0 L0.6,-4.0 L4.8,0 L0.6,4.0 L0.6,2.0 L-4.4,2.0 Z" fill="#b0b2b8" stroke="#333" stroke-width="0.7"/></g>
<text x="433.20" y="467.45" font-size="6.63" fill="#3a3a3a" stroke="#3a3a3a" stroke-width="0.2" text-anchor="middle" textLength="25.2" lengthAdjust="spacingAndGlyphs">Inhibition</text>
<text x="402.00" y="479.45" font-size="6.63" fill="#3a3a3a" stroke="#3a3a3a" stroke-width="0.2" text-anchor="middle" textLength="13.2" lengthAdjust="spacingAndGlyphs">ITIM</text>
<text x="477.10" y="482.13" font-size="6.85" fill="#3a3a3a" stroke="#3a3a3a" stroke-width="0.2" text-anchor="middle" textLength="20.7" lengthAdjust="spacingAndGlyphs">NK Cell</text>
<text x="393.90" y="519.33" font-size="6.85" fill="#3a3a3a" stroke="#3a3a3a" stroke-width="0.2" text-anchor="middle" textLength="24.1" lengthAdjust="spacingAndGlyphs">CD300a</text>
<text x="391.85" y="532.83" font-size="6.85" fill="#3a3a3a" stroke="#3a3a3a" stroke-width="0.2" text-anchor="middle" textLength="18.3" lengthAdjust="spacingAndGlyphs">PS,PE</text>
<line x1="401.60" y1="530.50" x2="409.20" y2="530.50" stroke="#d8404f" stroke-width="0.9" />
<text x="434.20" y="529.15" font-size="6.63" fill="#3a3a3a" stroke="#3a3a3a" stroke-width="0.2" text-anchor="middle" textLength="13.7" lengthAdjust="spacingAndGlyphs">scFV</text>
<line x1="441.60" y1="526.90" x2="449.00" y2="526.90" stroke="#d8404f" stroke-width="0.9" />
<text x="476.60" y="524.00" font-size="7.06" fill="#d81c78" stroke="#d81c78" stroke-width="0.2" text-anchor="middle" textLength="24.7" lengthAdjust="spacingAndGlyphs">CD300a</text>
<text x="477.00" y="532.40" font-size="7.06" fill="#d81c78" stroke="#d81c78" stroke-width="0.2" text-anchor="middle" textLength="14.4" lengthAdjust="spacingAndGlyphs">TASR</text>
<text x="425.60" y="554.33" font-size="6.85" fill="#3a3a3a" stroke="#3a3a3a" stroke-width="0.2" text-anchor="middle" textLength="22.6" lengthAdjust="spacingAndGlyphs">CD8 TM</text>
<line x1="437.40" y1="549.50" x2="449.20" y2="541.50" stroke="#d8404f" stroke-width="0.9" />
<text x="479.40" y="556.25" font-size="6.63" fill="#3a3a3a" stroke="#3a3a3a" stroke-width="0.2" text-anchor="middle" textLength="16.8" lengthAdjust="spacingAndGlyphs">Target</text>
<text x="423.00" y="563.33" font-size="6.85" fill="#3a3a3a" stroke="#3a3a3a" stroke-width="0.2" text-anchor="middle" textLength="29.4" lengthAdjust="spacingAndGlyphs">mB7-1 Cyt</text>
<line x1="438.00" y1="561.20" x2="449.20" y2="561.20" stroke="#d8404f" stroke-width="0.9" />
<rect x="0.5" y="0.5" width="519" height="578" fill="none" stroke="#5a5a5a" stroke-width="1.1"/>
</svg>
</body></html>
